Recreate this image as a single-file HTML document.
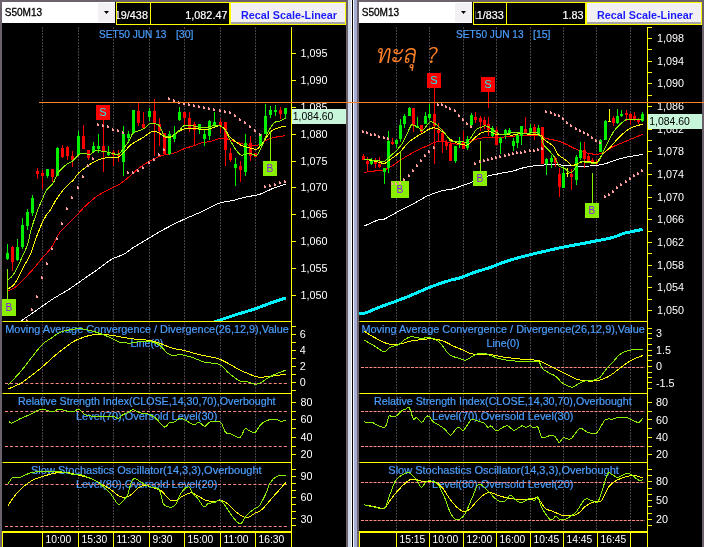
<!DOCTYPE html>
<html><head><meta charset="utf-8"><title>SET50 charts</title>
<style>html,body{margin:0;padding:0;background:#000;}body{width:704px;height:547px;overflow:hidden;position:relative;}</style>
</head><body>
<svg width="704" height="547" viewBox="0 0 704 547" style="position:absolute;left:0;top:0">
<rect x="0" y="0" width="704" height="547" fill="#000"/>
<defs>
<clipPath id="cl0"><rect x="2" y="25" width="289" height="296"/></clipPath>
<clipPath id="cl1"><rect x="359" y="25" width="288" height="296"/></clipPath>
<clipPath id="hc0"><rect x="117" y="3" width="33" height="21"/></clipPath>
<clipPath id="hc1"><rect x="475.6" y="3" width="30.4" height="21"/></clipPath>
</defs>
<line x1="42.5" y1="27" x2="42.5" y2="531" stroke="#4a404a" stroke-width="1" stroke-dasharray="2,1"/>
<line x1="78.5" y1="27" x2="78.5" y2="531" stroke="#4a404a" stroke-width="1" stroke-dasharray="2,1"/>
<line x1="113.5" y1="27" x2="113.5" y2="531" stroke="#4a404a" stroke-width="1" stroke-dasharray="2,1"/>
<line x1="149.5" y1="27" x2="149.5" y2="531" stroke="#4a404a" stroke-width="1" stroke-dasharray="2,1"/>
<line x1="184.5" y1="27" x2="184.5" y2="531" stroke="#4a404a" stroke-width="1" stroke-dasharray="2,1"/>
<line x1="220.5" y1="27" x2="220.5" y2="531" stroke="#4a404a" stroke-width="1" stroke-dasharray="2,1"/>
<line x1="255.5" y1="27" x2="255.5" y2="531" stroke="#4a404a" stroke-width="1" stroke-dasharray="2,1"/>
<line x1="396.5" y1="27" x2="396.5" y2="531" stroke="#4a404a" stroke-width="1" stroke-dasharray="2,1"/>
<line x1="429.5" y1="27" x2="429.5" y2="531" stroke="#4a404a" stroke-width="1" stroke-dasharray="2,1"/>
<line x1="463.5" y1="27" x2="463.5" y2="531" stroke="#4a404a" stroke-width="1" stroke-dasharray="2,1"/>
<line x1="496.5" y1="27" x2="496.5" y2="531" stroke="#4a404a" stroke-width="1" stroke-dasharray="2,1"/>
<line x1="530.5" y1="27" x2="530.5" y2="531" stroke="#4a404a" stroke-width="1" stroke-dasharray="2,1"/>
<line x1="563.5" y1="27" x2="563.5" y2="531" stroke="#4a404a" stroke-width="1" stroke-dasharray="2,1"/>
<line x1="596.5" y1="27" x2="596.5" y2="531" stroke="#4a404a" stroke-width="1" stroke-dasharray="2,1"/>
<line x1="630.5" y1="27" x2="630.5" y2="531" stroke="#4a404a" stroke-width="1" stroke-dasharray="2,1"/>
<text x="99" y="37.9" font-size="10.4" fill="#4a9eff" font-family="'Liberation Sans', Arial, sans-serif" textLength="67.5" lengthAdjust="spacingAndGlyphs" stroke="#4a9eff" stroke-width="0.2">SET50 JUN 13</text>
<text x="175.9" y="37.9" font-size="10.4" fill="#4a9eff" font-family="'Liberation Sans', Arial, sans-serif" textLength="17.5" lengthAdjust="spacingAndGlyphs" stroke="#4a9eff" stroke-width="0.2">[30]</text>
<text x="5.3" y="333.2" font-size="10.4" fill="#4a9eff" font-family="'Liberation Sans', Arial, sans-serif" textLength="283.5" lengthAdjust="spacingAndGlyphs" stroke="#4a9eff" stroke-width="0.2">Moving Average Convergence / Divergence(26,12,9),Value</text>
<text x="130.4" y="346.8" font-size="10.4" fill="#4a9eff" font-family="'Liberation Sans', Arial, sans-serif" textLength="33" lengthAdjust="spacingAndGlyphs" stroke="#4a9eff" stroke-width="0.2">Line(0)</text>
<text x="18" y="405" font-size="10.4" fill="#4a9eff" font-family="'Liberation Sans', Arial, sans-serif" textLength="257.6" lengthAdjust="spacingAndGlyphs" stroke="#4a9eff" stroke-width="0.2">Relative Strength Index(CLOSE,14,30,70),Overbought</text>
<text x="76" y="419.5" font-size="10.4" fill="#4a9eff" font-family="'Liberation Sans', Arial, sans-serif" textLength="141.3" lengthAdjust="spacingAndGlyphs" stroke="#4a9eff" stroke-width="0.2">Level(70),Oversold Level(30)</text>
<text x="31" y="474.3" font-size="10.4" fill="#4a9eff" font-family="'Liberation Sans', Arial, sans-serif" textLength="230.6" lengthAdjust="spacingAndGlyphs" stroke="#4a9eff" stroke-width="0.2">Slow Stochastics Oscillator(14,3,3),Overbought</text>
<text x="76" y="488" font-size="10.4" fill="#4a9eff" font-family="'Liberation Sans', Arial, sans-serif" textLength="141.3" lengthAdjust="spacingAndGlyphs" stroke="#4a9eff" stroke-width="0.2">Level(80),Oversold Level(20)</text>
<text x="456.1" y="37.9" font-size="10.4" fill="#4a9eff" font-family="'Liberation Sans', Arial, sans-serif" textLength="67.5" lengthAdjust="spacingAndGlyphs" stroke="#4a9eff" stroke-width="0.2">SET50 JUN 13</text>
<text x="533.0" y="37.9" font-size="10.4" fill="#4a9eff" font-family="'Liberation Sans', Arial, sans-serif" textLength="17.5" lengthAdjust="spacingAndGlyphs" stroke="#4a9eff" stroke-width="0.2">[15]</text>
<text x="361.40000000000003" y="333.2" font-size="10.4" fill="#4a9eff" font-family="'Liberation Sans', Arial, sans-serif" textLength="283.5" lengthAdjust="spacingAndGlyphs" stroke="#4a9eff" stroke-width="0.2">Moving Average Convergence / Divergence(26,12,9),Value</text>
<text x="486.5" y="346.8" font-size="10.4" fill="#4a9eff" font-family="'Liberation Sans', Arial, sans-serif" textLength="33" lengthAdjust="spacingAndGlyphs" stroke="#4a9eff" stroke-width="0.2">Line(0)</text>
<text x="374.1" y="405" font-size="10.4" fill="#4a9eff" font-family="'Liberation Sans', Arial, sans-serif" textLength="257.6" lengthAdjust="spacingAndGlyphs" stroke="#4a9eff" stroke-width="0.2">Relative Strength Index(CLOSE,14,30,70),Overbought</text>
<text x="432.1" y="419.5" font-size="10.4" fill="#4a9eff" font-family="'Liberation Sans', Arial, sans-serif" textLength="141.3" lengthAdjust="spacingAndGlyphs" stroke="#4a9eff" stroke-width="0.2">Level(70),Oversold Level(30)</text>
<text x="388.3" y="474.3" font-size="10.4" fill="#4a9eff" font-family="'Liberation Sans', Arial, sans-serif" textLength="230.6" lengthAdjust="spacingAndGlyphs" stroke="#4a9eff" stroke-width="0.2">Slow Stochastics Oscillator(14,3,3),Overbought</text>
<text x="432.1" y="488" font-size="10.4" fill="#4a9eff" font-family="'Liberation Sans', Arial, sans-serif" textLength="141.3" lengthAdjust="spacingAndGlyphs" stroke="#4a9eff" stroke-width="0.2">Level(80),Oversold Level(20)</text>
<line x1="5" y1="383.5" x2="289" y2="383.5" stroke="#ff8a80" stroke-width="1" stroke-dasharray="3,2.07"/>
<line x1="5" y1="411.5" x2="289" y2="411.5" stroke="#ff8a80" stroke-width="1" stroke-dasharray="3,2.07"/>
<line x1="5" y1="446.5" x2="289" y2="446.5" stroke="#ff8a80" stroke-width="1" stroke-dasharray="3,2.07"/>
<line x1="5" y1="484.5" x2="289" y2="484.5" stroke="#ff8a80" stroke-width="1" stroke-dasharray="3,2.07"/>
<line x1="5" y1="526.5" x2="289" y2="526.5" stroke="#ff8a80" stroke-width="1" stroke-dasharray="3,2.07"/>
<line x1="2.5" y1="321.5" x2="292" y2="321.5" stroke="#ffff00" stroke-width="1"/>
<line x1="2.5" y1="393.5" x2="292" y2="393.5" stroke="#ffff00" stroke-width="1"/>
<line x1="2.5" y1="462.5" x2="292" y2="462.5" stroke="#ffff00" stroke-width="1"/>
<rect x="2" y="531" width="290" height="2" fill="#ffff00"/>
<rect x="2" y="531" width="1" height="16" fill="#ffff00"/>
<rect x="42" y="531" width="1" height="16" fill="#ffff00"/>
<rect x="78" y="531" width="1" height="16" fill="#ffff00"/>
<rect x="113" y="531" width="1" height="16" fill="#ffff00"/>
<rect x="149" y="531" width="1" height="16" fill="#ffff00"/>
<rect x="184" y="531" width="1" height="16" fill="#ffff00"/>
<rect x="220" y="531" width="1" height="16" fill="#ffff00"/>
<rect x="255" y="531" width="1" height="16" fill="#ffff00"/>
<rect x="291" y="531" width="1" height="16" fill="#ffff00"/>
<text x="45.5" y="543" font-size="10.3" fill="#ffffff" font-family="'Liberation Sans', Arial, sans-serif">10:00</text>
<text x="81.5" y="543" font-size="10.3" fill="#ffffff" font-family="'Liberation Sans', Arial, sans-serif">15:30</text>
<text x="116.5" y="543" font-size="10.3" fill="#ffffff" font-family="'Liberation Sans', Arial, sans-serif">11:30</text>
<text x="152.5" y="543" font-size="10.3" fill="#ffffff" font-family="'Liberation Sans', Arial, sans-serif">9:30</text>
<text x="187.5" y="543" font-size="10.3" fill="#ffffff" font-family="'Liberation Sans', Arial, sans-serif">15:00</text>
<text x="223.5" y="543" font-size="10.3" fill="#ffffff" font-family="'Liberation Sans', Arial, sans-serif">11:00</text>
<text x="258.5" y="543" font-size="10.3" fill="#ffffff" font-family="'Liberation Sans', Arial, sans-serif">16:30</text>
<rect x="291" y="27" width="1" height="520" fill="#ffff00"/>
<line x1="361" y1="367.5" x2="645" y2="367.5" stroke="#ff8a80" stroke-width="1" stroke-dasharray="3,1.17"/>
<line x1="361" y1="411.5" x2="645" y2="411.5" stroke="#ff8a80" stroke-width="1" stroke-dasharray="3,1.17"/>
<line x1="361" y1="446.5" x2="645" y2="446.5" stroke="#ff8a80" stroke-width="1" stroke-dasharray="3,1.17"/>
<line x1="361" y1="482.5" x2="645" y2="482.5" stroke="#ff8a80" stroke-width="1" stroke-dasharray="3,1.17"/>
<line x1="361" y1="520.5" x2="645" y2="520.5" stroke="#ff8a80" stroke-width="1" stroke-dasharray="3,1.17"/>
<line x1="359.5" y1="321.5" x2="648" y2="321.5" stroke="#ffff00" stroke-width="1"/>
<line x1="359.5" y1="393.5" x2="648" y2="393.5" stroke="#ffff00" stroke-width="1"/>
<line x1="359.5" y1="462.5" x2="648" y2="462.5" stroke="#ffff00" stroke-width="1"/>
<rect x="359" y="531" width="289" height="2" fill="#ffff00"/>
<rect x="359" y="531" width="1" height="16" fill="#ffff00"/>
<rect x="396" y="531" width="1" height="16" fill="#ffff00"/>
<rect x="429" y="531" width="1" height="16" fill="#ffff00"/>
<rect x="463" y="531" width="1" height="16" fill="#ffff00"/>
<rect x="496" y="531" width="1" height="16" fill="#ffff00"/>
<rect x="530" y="531" width="1" height="16" fill="#ffff00"/>
<rect x="563" y="531" width="1" height="16" fill="#ffff00"/>
<rect x="597" y="531" width="1" height="16" fill="#ffff00"/>
<rect x="630" y="531" width="1" height="16" fill="#ffff00"/>
<rect x="647" y="531" width="1" height="16" fill="#ffff00"/>
<text x="399.5" y="543" font-size="10.3" fill="#ffffff" font-family="'Liberation Sans', Arial, sans-serif">15:15</text>
<text x="432.5" y="543" font-size="10.3" fill="#ffffff" font-family="'Liberation Sans', Arial, sans-serif">10:00</text>
<text x="466.5" y="543" font-size="10.3" fill="#ffffff" font-family="'Liberation Sans', Arial, sans-serif">12:00</text>
<text x="499.5" y="543" font-size="10.3" fill="#ffffff" font-family="'Liberation Sans', Arial, sans-serif">16:00</text>
<text x="533.5" y="543" font-size="10.3" fill="#ffffff" font-family="'Liberation Sans', Arial, sans-serif">10:45</text>
<text x="566.5" y="543" font-size="10.3" fill="#ffffff" font-family="'Liberation Sans', Arial, sans-serif">14:45</text>
<text x="600.5" y="543" font-size="10.3" fill="#ffffff" font-family="'Liberation Sans', Arial, sans-serif">16:45</text>
<rect x="647" y="27" width="1" height="520" fill="#ffff00"/>
<g clip-path="url(#cl0)">
<path d="M212.0,322.8 C215.4,321.6 225.3,318.2 232.3,315.9 C239.3,313.6 247.8,311.2 254.2,309.1 C260.6,307.0 265.4,304.9 270.6,303.0 C275.9,301.1 283.2,298.8 285.7,298.0" fill="none" stroke="#00f4ff" stroke-width="3" shape-rendering="crispEdges"/>
<path d="M20.8,321.1 C23.1,319.5 29.5,315.2 34.7,311.6 C39.9,308.0 46.3,303.2 52.1,299.4 C57.9,295.6 63.6,292.8 69.4,289.0 C75.2,285.2 82.1,280.1 86.8,276.9 C91.5,273.7 93.4,272.5 97.5,269.6 C101.6,266.7 106.8,262.2 111.2,259.6 C115.6,257.0 120.3,256.1 124.0,254.1 C127.7,252.1 128.5,250.6 133.1,247.7 C137.7,244.8 145.8,240.0 151.4,236.7 C157.0,233.4 161.2,230.8 166.5,228.0 C171.8,225.2 177.0,222.6 182.9,219.8 C188.8,217.1 196.2,214.2 202.1,211.5 C208.0,208.8 213.5,205.1 218.5,203.3 C223.5,201.5 227.7,201.7 232.3,200.6 C236.9,199.5 241.4,198.1 246.0,197.0 C250.6,195.9 255.1,195.8 259.7,194.3 C264.3,192.8 269.1,189.9 273.4,188.2 C277.7,186.5 283.6,184.8 285.7,184.1" fill="none" stroke="#ffffff" stroke-width="1" shape-rendering="crispEdges"/>
<path d="M7.8,291.1 C9.2,290.3 13.5,288.8 16.5,286.4 C19.5,284.0 23.0,280.1 26.0,276.9 C29.0,273.7 32.0,270.5 34.7,267.3 C37.5,264.1 39.6,261.3 42.5,257.8 C45.4,254.3 49.2,250.8 52.1,246.5 C55.0,242.2 56.1,237.2 60.0,232.2 C63.9,227.2 71.4,220.9 75.5,216.6 C79.6,212.3 81.2,209.9 84.7,206.6 C88.2,203.2 92.2,199.6 96.6,196.5 C101.0,193.4 107.2,190.4 111.2,188.3 C115.2,186.2 117.2,185.7 120.3,183.7 C123.3,181.7 126.4,179.0 129.5,176.4 C132.6,173.8 135.6,170.6 138.9,168.1 C142.2,165.6 145.7,163.4 149.1,161.5 C152.5,159.6 156.1,157.6 159.3,156.4 C162.5,155.2 165.5,154.8 168.1,154.2 C170.7,153.6 172.2,153.7 175.0,152.7 C177.8,151.7 181.7,149.6 185.0,148.4 C188.3,147.2 192.5,146.3 195.0,145.4 C197.5,144.5 197.5,143.8 200.0,143.2 C202.5,142.5 206.7,142.3 210.0,141.5 C213.3,140.7 217.3,139.1 220.0,138.6 C222.7,138.1 223.8,138.2 226.0,138.6 C228.2,139.0 229.8,140.0 233.0,141.0 C236.2,142.0 241.0,143.7 245.0,144.4 C249.0,145.1 252.8,146.3 257.0,145.3 C261.2,144.3 265.2,140.1 270.0,138.5 C274.8,136.9 282.9,136.1 285.5,135.6" fill="none" stroke="#ff0000" stroke-width="1" shape-rendering="crispEdges"/>
<rect x="7" y="244" width="1" height="16" fill="#00f000"/>
<rect x="6" y="253" width="3" height="6" fill="#00f000"/>
<rect x="12" y="246" width="1" height="25" fill="#ff0000"/>
<rect x="11" y="247" width="3" height="15" fill="#ff0000"/>
<rect x="17" y="239" width="1" height="22" fill="#00f000"/>
<rect x="16" y="247" width="3" height="13" fill="#00f000"/>
<rect x="22" y="218" width="1" height="31" fill="#00f000"/>
<rect x="21" y="225" width="3" height="22" fill="#00f000"/>
<rect x="27" y="209" width="1" height="21" fill="#00f000"/>
<rect x="26" y="212" width="3" height="14" fill="#00f000"/>
<rect x="32" y="195" width="1" height="21" fill="#00f000"/>
<rect x="31" y="198" width="3" height="15" fill="#00f000"/>
<rect x="37" y="168" width="1" height="11" fill="#ff0000"/>
<rect x="36" y="171" width="3" height="3" fill="#ff0000"/>
<rect x="42" y="170" width="1" height="19" fill="#ff0000"/>
<rect x="41" y="173" width="3" height="3" fill="#ff0000"/>
<rect x="47" y="169" width="1" height="9" fill="#00f000"/>
<rect x="46" y="169" width="3" height="7" fill="#00f000"/>
<rect x="52" y="169" width="1" height="13" fill="#ff0000"/>
<rect x="51" y="169" width="3" height="8" fill="#ff0000"/>
<rect x="57" y="147" width="1" height="29" fill="#00f000"/>
<rect x="56" y="148" width="3" height="28" fill="#00f000"/>
<rect x="62" y="145" width="1" height="13" fill="#ff0000"/>
<rect x="61" y="148" width="3" height="9" fill="#ff0000"/>
<rect x="67" y="146" width="1" height="14" fill="#ff0000"/>
<rect x="66" y="147" width="3" height="9" fill="#ff0000"/>
<rect x="72" y="151" width="1" height="16" fill="#ff0000"/>
<rect x="71" y="156" width="3" height="4" fill="#ff0000"/>
<rect x="78" y="131" width="1" height="25" fill="#00f000"/>
<rect x="77" y="136" width="3" height="19" fill="#00f000"/>
<rect x="83" y="125" width="1" height="24" fill="#ff0000"/>
<rect x="82" y="136" width="3" height="13" fill="#ff0000"/>
<rect x="88" y="150" width="1" height="10" fill="#ff0000"/>
<rect x="87" y="150" width="3" height="8" fill="#ff0000"/>
<rect x="93" y="142" width="1" height="11" fill="#00f000"/>
<rect x="92" y="146" width="3" height="6" fill="#00f000"/>
<rect x="98" y="134" width="1" height="19" fill="#00f000"/>
<rect x="97" y="146" width="3" height="3" fill="#00f000"/>
<rect x="103" y="121" width="1" height="51" fill="#ff0000"/>
<rect x="102" y="146" width="3" height="6" fill="#ff0000"/>
<rect x="108" y="146" width="1" height="10" fill="#00f000"/>
<rect x="107" y="152" width="3" height="3" fill="#00f000"/>
<rect x="113" y="150" width="1" height="16" fill="#ff0000"/>
<rect x="112" y="152" width="3" height="3" fill="#ff0000"/>
<rect x="118" y="150" width="1" height="12" fill="#ff0000"/>
<rect x="117" y="154" width="3" height="2" fill="#ff0000"/>
<rect x="123" y="126" width="1" height="50" fill="#00f000"/>
<rect x="122" y="134" width="3" height="28" fill="#00f000"/>
<rect x="128" y="131" width="1" height="11" fill="#00f000"/>
<rect x="127" y="134" width="3" height="4" fill="#00f000"/>
<rect x="133" y="110" width="1" height="24" fill="#00f000"/>
<rect x="132" y="110" width="3" height="23" fill="#00f000"/>
<rect x="138" y="103" width="1" height="23" fill="#ff0000"/>
<rect x="137" y="111" width="3" height="12" fill="#ff0000"/>
<rect x="143" y="112" width="1" height="16" fill="#ff0000"/>
<rect x="142" y="124" width="3" height="4" fill="#ff0000"/>
<rect x="149" y="108" width="1" height="13" fill="#00f000"/>
<rect x="148" y="111" width="3" height="6" fill="#00f000"/>
<rect x="154" y="99" width="1" height="57" fill="#ff0000"/>
<rect x="153" y="111" width="3" height="13" fill="#ff0000"/>
<rect x="159" y="118" width="1" height="28" fill="#ff0000"/>
<rect x="158" y="124" width="3" height="7" fill="#ff0000"/>
<rect x="164" y="133" width="1" height="22" fill="#ff0000"/>
<rect x="163" y="133" width="3" height="21" fill="#ff0000"/>
<rect x="169" y="131" width="1" height="24" fill="#00f000"/>
<rect x="168" y="134" width="3" height="20" fill="#00f000"/>
<rect x="174" y="126" width="1" height="16" fill="#00f000"/>
<rect x="173" y="134" width="3" height="5" fill="#00f000"/>
<rect x="179" y="107" width="1" height="14" fill="#00f000"/>
<rect x="178" y="112" width="3" height="8" fill="#00f000"/>
<rect x="184" y="112" width="1" height="13" fill="#ff0000"/>
<rect x="183" y="112" width="3" height="6" fill="#ff0000"/>
<rect x="189" y="112" width="1" height="20" fill="#ff0000"/>
<rect x="188" y="118" width="3" height="10" fill="#ff0000"/>
<rect x="194" y="122" width="1" height="24" fill="#ff0000"/>
<rect x="193" y="124" width="3" height="6" fill="#ff0000"/>
<rect x="199" y="124" width="1" height="10" fill="#00f000"/>
<rect x="198" y="124" width="3" height="6" fill="#00f000"/>
<rect x="204" y="130" width="1" height="16" fill="#00f000"/>
<rect x="203" y="134" width="3" height="5" fill="#00f000"/>
<rect x="209" y="120" width="1" height="20" fill="#00f000"/>
<rect x="208" y="121" width="3" height="15" fill="#00f000"/>
<rect x="214" y="112" width="1" height="16" fill="#00f000"/>
<rect x="213" y="122" width="3" height="4" fill="#00f000"/>
<rect x="220" y="119" width="1" height="14" fill="#ff0000"/>
<rect x="219" y="122" width="3" height="4" fill="#ff0000"/>
<rect x="225" y="122" width="1" height="44" fill="#ff0000"/>
<rect x="224" y="122" width="3" height="28" fill="#ff0000"/>
<rect x="230" y="148" width="1" height="14" fill="#ff0000"/>
<rect x="229" y="153" width="3" height="7" fill="#ff0000"/>
<rect x="235" y="158" width="1" height="28" fill="#00f000"/>
<rect x="234" y="164" width="3" height="4" fill="#00f000"/>
<rect x="240" y="161" width="1" height="21" fill="#ff0000"/>
<rect x="239" y="166" width="3" height="4" fill="#ff0000"/>
<rect x="245" y="134" width="1" height="42" fill="#00f000"/>
<rect x="244" y="143" width="3" height="29" fill="#00f000"/>
<rect x="250" y="136" width="1" height="25" fill="#ff0000"/>
<rect x="249" y="143" width="3" height="13" fill="#ff0000"/>
<rect x="255" y="153" width="1" height="4" fill="#ff0000"/>
<rect x="254" y="153" width="3" height="4" fill="#ff0000"/>
<rect x="260" y="134" width="1" height="12" fill="#00f000"/>
<rect x="259" y="134" width="3" height="12" fill="#00f000"/>
<rect x="265" y="104" width="1" height="30" fill="#00f000"/>
<rect x="264" y="116" width="3" height="18" fill="#00f000"/>
<rect x="270" y="106" width="1" height="12" fill="#00f000"/>
<rect x="269" y="110" width="3" height="5" fill="#00f000"/>
<rect x="275" y="105" width="1" height="11" fill="#00f000"/>
<rect x="274" y="110" width="3" height="2" fill="#00f000"/>
<rect x="280" y="107" width="1" height="12" fill="#ff0000"/>
<rect x="279" y="110" width="3" height="4" fill="#ff0000"/>
<rect x="285" y="108" width="1" height="10" fill="#00f000"/>
<rect x="284" y="108" width="3" height="6" fill="#00f000"/>
<path d="M7.8,289.0 C8.8,288.3 12.0,286.9 13.9,284.7 C15.8,282.5 17.4,279.2 19.1,276.0 C20.8,272.8 22.4,269.2 24.3,265.6 C26.2,262.0 28.7,258.2 30.4,254.3 C32.1,250.4 32.8,247.2 34.5,242.4 C36.2,237.7 39.0,230.3 40.9,225.8 C42.8,221.3 44.5,218.2 46.0,215.6 C47.5,213.0 48.3,213.1 50.0,210.5 C51.7,207.9 53.8,203.4 56.0,200.0 C58.2,196.6 60.9,192.7 63.1,190.0 C65.3,187.3 67.4,185.3 69.1,183.7 C70.8,182.1 71.9,181.9 73.1,180.5 C74.3,179.1 75.3,177.0 76.5,175.5 C77.7,174.0 78.5,173.0 80.4,171.4 C82.3,169.8 85.3,167.6 87.8,165.9 C90.2,164.2 92.7,162.5 95.1,161.3 C97.5,160.1 99.9,159.3 102.3,158.6 C104.7,157.9 106.9,157.3 109.6,157.1 C112.3,156.8 116.0,157.9 118.4,157.1 C120.8,156.2 122.2,153.9 124.2,152.0 C126.2,150.1 128.2,147.2 130.1,145.4 C132.0,143.7 133.7,142.8 135.9,141.5 C138.1,140.2 140.8,138.9 143.2,137.4 C145.6,135.9 148.6,133.3 150.6,132.3 C152.6,131.3 153.6,131.4 155.0,131.5 C156.4,131.6 157.7,132.1 159.3,133.0 C160.9,133.9 162.6,136.0 164.4,136.7 C166.2,137.4 167.7,138.2 170.0,137.4 C172.3,136.6 175.5,133.5 178.0,132.0 C180.5,130.5 182.2,129.2 185.0,128.6 C187.8,128.0 191.7,128.1 195.0,128.3 C198.3,128.5 201.7,130.0 205.0,129.8 C208.3,129.6 212.5,127.6 215.0,127.0 C217.5,126.4 218.3,125.6 220.0,126.0 C221.7,126.4 223.3,127.6 225.0,129.4 C226.7,131.2 227.3,134.3 230.0,137.0 C232.7,139.7 237.3,143.4 241.0,145.3 C244.7,147.2 249.3,147.8 252.0,148.4 C254.7,149.0 255.3,149.7 257.0,149.0 C258.7,148.3 259.5,147.1 262.0,144.0 C264.5,140.9 268.1,133.6 272.0,130.6 C275.9,127.6 283.2,126.8 285.5,126.0" fill="none" stroke="#ffff00" stroke-width="1" shape-rendering="crispEdges"/>
<path d="M7.8,280.3 C8.7,279.4 11.4,277.3 13.0,275.1 C14.6,272.9 15.8,270.5 17.4,267.3 C19.0,264.1 20.9,259.9 22.6,256.0 C24.3,252.1 26.4,248.4 27.8,243.9 C29.2,239.4 29.8,234.4 31.3,229.0 C32.9,223.6 35.3,216.6 37.1,211.7 C38.9,206.8 40.6,203.2 42.2,199.6 C43.8,196.0 44.9,192.7 46.7,190.0 C48.5,187.3 51.0,186.1 53.0,183.2 C55.0,180.2 56.4,175.3 58.5,172.3 C60.6,169.3 63.5,166.8 65.8,165.0 C68.1,163.2 70.1,163.0 72.2,161.3 C74.3,159.6 76.6,156.3 78.6,154.9 C80.6,153.5 82.3,153.1 84.1,153.1 C85.9,153.1 87.8,155.2 89.6,154.9 C91.4,154.6 92.7,151.6 95.1,151.0 C97.5,150.4 101.4,151.0 103.8,151.3 C106.2,151.6 107.2,152.2 109.6,152.7 C112.0,153.2 116.0,155.0 118.4,154.2 C120.8,153.3 122.4,149.9 124.2,147.6 C126.0,145.3 127.9,142.7 129.4,140.3 C130.9,137.9 131.4,134.6 133.0,133.0 C134.6,131.4 137.1,131.5 138.9,130.8 C140.7,130.1 142.2,129.8 144.0,128.6 C145.8,127.4 148.1,124.3 149.8,123.5 C151.5,122.7 152.6,123.1 154.2,123.5 C155.8,123.9 157.6,123.6 159.3,125.7 C161.0,127.8 162.6,134.1 164.4,135.9 C166.2,137.7 168.2,137.0 170.0,136.7 C171.8,136.4 173.3,135.2 175.0,134.0 C176.7,132.8 178.5,131.2 180.0,129.8 C181.5,128.4 181.7,126.3 184.0,125.7 C186.3,125.1 190.7,125.6 194.0,126.0 C197.3,126.4 200.7,128.1 204.0,128.0 C207.3,127.9 211.3,125.8 214.0,125.4 C216.7,125.0 218.2,124.9 220.0,125.7 C221.8,126.5 223.3,127.6 225.0,130.0 C226.7,132.4 228.2,136.7 230.0,140.0 C231.8,143.3 234.2,147.5 236.0,150.0 C237.8,152.5 239.3,154.3 241.0,155.0 C242.7,155.7 244.2,154.2 246.0,154.0 C247.8,153.8 250.2,153.8 252.0,154.0 C253.8,154.2 255.3,156.3 257.0,155.0 C258.7,153.7 260.3,149.5 262.0,146.0 C263.7,142.5 265.0,137.8 267.0,134.0 C269.0,130.2 271.8,125.2 274.0,123.0 C276.2,120.8 278.1,121.8 280.0,121.0 C281.9,120.2 284.6,118.5 285.5,118.0" fill="none" stroke="#88f000" stroke-width="1" shape-rendering="crispEdges"/>
</g>
<g clip-path="url(#cl1)">
<path d="M359.3,313.6 C360.4,313.5 362.4,313.9 365.7,312.9 C368.9,311.9 373.6,309.4 378.8,307.4 C384.0,305.4 390.7,303.2 396.6,301.0 C402.5,298.8 408.7,296.3 414.4,293.9 C420.1,291.5 425.1,289.1 431.0,286.8 C436.9,284.5 445.3,281.8 450.1,280.3 C454.9,278.8 455.7,279.3 459.6,278.0 C463.6,276.7 468.7,274.3 473.8,272.5 C478.9,270.7 485.3,269.1 490.5,267.3 C495.7,265.5 499.8,263.6 505.0,261.8 C510.2,260.1 516.3,258.3 521.9,256.8 C527.5,255.3 531.5,254.3 538.4,252.7 C545.3,251.1 555.8,248.7 563.1,247.2 C570.4,245.7 576.8,244.6 582.3,243.6 C587.8,242.6 591.0,241.9 596.0,240.9 C601.0,239.9 607.8,238.8 612.4,237.6 C617.0,236.4 618.4,234.9 623.4,233.5 C628.4,232.1 639.4,230.1 642.6,229.4" fill="none" stroke="#00f4ff" stroke-width="3" shape-rendering="crispEdges"/>
<path d="M364.0,226.1 C366.3,225.1 374.4,221.3 377.6,220.2 C380.9,219.1 380.3,220.8 383.5,219.5 C386.7,218.2 392.6,214.5 396.6,212.4 C400.6,210.3 404.4,208.5 407.3,207.0 C410.2,205.5 410.7,205.3 414.2,203.4 C417.7,201.5 423.7,197.6 428.4,195.5 C433.1,193.4 438.8,191.6 442.6,190.6 C446.4,189.6 447.8,190.2 451.1,189.4 C454.4,188.6 458.9,186.8 462.5,185.6 C466.1,184.4 468.1,183.6 472.4,182.0 C476.6,180.4 484.0,177.4 488.0,176.1 C492.0,174.8 493.8,174.8 496.6,174.2 C499.4,173.6 502.1,172.9 505.0,172.4 C507.9,171.9 510.9,171.6 513.8,170.9 C516.7,170.2 519.1,168.8 522.5,168.0 C525.9,167.2 530.8,166.3 534.2,165.8 C537.6,165.3 539.3,165.3 543.0,165.1 C546.7,164.8 553.4,164.3 556.2,164.3 C559.0,164.3 556.9,164.6 560.0,164.9 C563.1,165.2 570.0,165.8 575.0,166.0 C580.0,166.2 586.2,166.1 590.0,166.0 C593.8,165.9 595.5,165.6 598.0,165.2 C600.5,164.8 602.7,164.4 605.0,163.8 C607.3,163.2 609.0,162.4 611.6,161.5 C614.2,160.6 617.6,159.3 620.6,158.5 C623.6,157.7 626.7,157.1 629.5,156.6 C632.3,156.1 635.0,155.7 637.2,155.3 C639.5,154.9 642.0,154.5 643.0,154.3" fill="none" stroke="#ffffff" stroke-width="1" shape-rendering="crispEdges"/>
<path d="M363.5,173.2 C364.6,172.9 366.6,171.9 370.0,171.4 C373.4,170.9 380.1,170.9 383.8,170.0 C387.5,169.1 389.4,167.5 392.0,166.0 C394.6,164.5 395.8,163.0 399.2,160.8 C402.6,158.6 409.2,154.7 412.7,152.7 C416.2,150.7 417.4,150.2 420.0,149.0 C422.6,147.8 425.1,146.7 428.0,145.4 C430.9,144.2 434.5,142.1 437.7,141.5 C440.9,140.9 443.8,141.6 447.3,142.1 C450.8,142.6 455.0,144.5 458.8,144.3 C462.6,144.2 466.8,142.2 470.4,141.2 C474.0,140.2 476.9,138.9 480.2,138.3 C483.5,137.7 486.7,137.7 490.0,137.5 C493.3,137.3 496.7,137.5 500.0,137.3 C503.3,137.1 506.7,136.8 510.0,136.5 C513.3,136.2 514.6,135.9 519.6,135.8 C524.6,135.7 535.8,135.4 540.0,135.8 C544.2,136.2 542.8,137.5 545.0,138.2 C547.2,138.9 550.5,139.3 553.0,139.9 C555.5,140.5 557.8,140.9 560.0,141.6 C562.2,142.3 564.0,143.2 566.0,144.2 C568.0,145.1 569.7,146.2 572.0,147.3 C574.3,148.4 577.5,149.8 580.0,150.7 C582.5,151.6 584.3,152.4 587.0,153.0 C589.7,153.6 593.3,154.3 596.0,154.3 C598.7,154.3 601.1,153.7 603.0,153.0 C604.9,152.3 605.5,151.2 607.3,150.1 C609.0,149.0 610.7,147.8 613.5,146.5 C616.3,145.2 620.8,143.4 624.0,142.1 C627.2,140.8 629.4,139.8 632.6,138.5 C635.8,137.2 641.3,134.8 643.0,134.1" fill="none" stroke="#ff0000" stroke-width="1" shape-rendering="crispEdges"/>
<rect x="363" y="154" width="1" height="6" fill="#ff0000"/>
<rect x="362" y="156" width="3" height="4" fill="#ff0000"/>
<rect x="367" y="157" width="1" height="15" fill="#ff0000"/>
<rect x="366" y="161" width="3" height="3" fill="#ff0000"/>
<rect x="371" y="158" width="1" height="7" fill="#00f000"/>
<rect x="370" y="161" width="3" height="3" fill="#00f000"/>
<rect x="375" y="158" width="1" height="10" fill="#ff0000"/>
<rect x="374" y="160" width="3" height="4" fill="#ff0000"/>
<rect x="379" y="157" width="1" height="11" fill="#ff0000"/>
<rect x="378" y="164" width="3" height="3" fill="#ff0000"/>
<rect x="384" y="168" width="1" height="16" fill="#00f000"/>
<rect x="383" y="168" width="3" height="4" fill="#00f000"/>
<rect x="388" y="131" width="1" height="42" fill="#00f000"/>
<rect x="387" y="141" width="3" height="27" fill="#00f000"/>
<rect x="392" y="138" width="1" height="7" fill="#ff0000"/>
<rect x="391" y="142" width="3" height="2" fill="#ff0000"/>
<rect x="396" y="139" width="1" height="9" fill="#00f000"/>
<rect x="395" y="140" width="3" height="4" fill="#00f000"/>
<rect x="400" y="119" width="1" height="23" fill="#00f000"/>
<rect x="399" y="125" width="3" height="14" fill="#00f000"/>
<rect x="404" y="114" width="1" height="14" fill="#00f000"/>
<rect x="403" y="116" width="3" height="8" fill="#00f000"/>
<rect x="409" y="107" width="1" height="9" fill="#00f000"/>
<rect x="408" y="108" width="3" height="8" fill="#00f000"/>
<rect x="413" y="108" width="1" height="24" fill="#ff0000"/>
<rect x="412" y="108" width="3" height="18" fill="#ff0000"/>
<rect x="417" y="117" width="1" height="11" fill="#00f000"/>
<rect x="416" y="126" width="3" height="2" fill="#00f000"/>
<rect x="421" y="125" width="1" height="9" fill="#ff0000"/>
<rect x="420" y="125" width="3" height="7" fill="#ff0000"/>
<rect x="425" y="112" width="1" height="12" fill="#00f000"/>
<rect x="424" y="116" width="3" height="8" fill="#00f000"/>
<rect x="429" y="104" width="1" height="16" fill="#00f000"/>
<rect x="428" y="114" width="3" height="4" fill="#00f000"/>
<rect x="434" y="88" width="1" height="76" fill="#ff0000"/>
<rect x="433" y="114" width="3" height="12" fill="#ff0000"/>
<rect x="438" y="123" width="1" height="19" fill="#ff0000"/>
<rect x="437" y="130" width="3" height="3" fill="#ff0000"/>
<rect x="442" y="129" width="1" height="24" fill="#ff0000"/>
<rect x="441" y="133" width="3" height="9" fill="#ff0000"/>
<rect x="446" y="140" width="1" height="10" fill="#ff0000"/>
<rect x="445" y="142" width="3" height="4" fill="#ff0000"/>
<rect x="450" y="140" width="1" height="21" fill="#ff0000"/>
<rect x="449" y="144" width="3" height="17" fill="#ff0000"/>
<rect x="455" y="146" width="1" height="17" fill="#00f000"/>
<rect x="454" y="146" width="3" height="15" fill="#00f000"/>
<rect x="459" y="137" width="1" height="11" fill="#00f000"/>
<rect x="458" y="142" width="3" height="2" fill="#00f000"/>
<rect x="463" y="131" width="1" height="18" fill="#ff0000"/>
<rect x="462" y="142" width="3" height="7" fill="#ff0000"/>
<rect x="467" y="136" width="1" height="14" fill="#00f000"/>
<rect x="466" y="139" width="3" height="9" fill="#00f000"/>
<rect x="471" y="113" width="1" height="13" fill="#00f000"/>
<rect x="470" y="115" width="3" height="10" fill="#00f000"/>
<rect x="475" y="112" width="1" height="11" fill="#ff0000"/>
<rect x="474" y="117" width="3" height="3" fill="#ff0000"/>
<rect x="480" y="116" width="1" height="15" fill="#ff0000"/>
<rect x="479" y="118" width="3" height="4" fill="#ff0000"/>
<rect x="484" y="117" width="1" height="12" fill="#ff0000"/>
<rect x="483" y="120" width="3" height="5" fill="#ff0000"/>
<rect x="488" y="117" width="1" height="19" fill="#ff0000"/>
<rect x="487" y="124" width="3" height="6" fill="#ff0000"/>
<rect x="492" y="126" width="1" height="11" fill="#00f000"/>
<rect x="491" y="128" width="3" height="8" fill="#00f000"/>
<rect x="496" y="127" width="1" height="18" fill="#ff0000"/>
<rect x="495" y="130" width="3" height="15" fill="#ff0000"/>
<rect x="500" y="137" width="1" height="17" fill="#00f000"/>
<rect x="499" y="138" width="3" height="5" fill="#00f000"/>
<rect x="505" y="129" width="1" height="10" fill="#00f000"/>
<rect x="504" y="130" width="3" height="5" fill="#00f000"/>
<rect x="509" y="128" width="1" height="7" fill="#00f000"/>
<rect x="508" y="130" width="3" height="4" fill="#00f000"/>
<rect x="513" y="138" width="1" height="13" fill="#00f000"/>
<rect x="512" y="141" width="3" height="5" fill="#00f000"/>
<rect x="517" y="132" width="1" height="16" fill="#00f000"/>
<rect x="516" y="135" width="3" height="8" fill="#00f000"/>
<rect x="521" y="126" width="1" height="19" fill="#00f000"/>
<rect x="520" y="126" width="3" height="10" fill="#00f000"/>
<rect x="525" y="117" width="1" height="17" fill="#ff0000"/>
<rect x="524" y="129" width="3" height="4" fill="#ff0000"/>
<rect x="530" y="124" width="1" height="10" fill="#00f000"/>
<rect x="529" y="128" width="3" height="5" fill="#00f000"/>
<rect x="534" y="124" width="1" height="16" fill="#ff0000"/>
<rect x="533" y="127" width="3" height="7" fill="#ff0000"/>
<rect x="538" y="125" width="1" height="11" fill="#00f000"/>
<rect x="537" y="128" width="3" height="6" fill="#00f000"/>
<rect x="542" y="127" width="1" height="37" fill="#ff0000"/>
<rect x="541" y="127" width="3" height="37" fill="#ff0000"/>
<rect x="546" y="158" width="1" height="17" fill="#00f000"/>
<rect x="545" y="159" width="3" height="5" fill="#00f000"/>
<rect x="551" y="155" width="1" height="13" fill="#00f000"/>
<rect x="550" y="158" width="3" height="4" fill="#00f000"/>
<rect x="555" y="157" width="1" height="10" fill="#ff0000"/>
<rect x="554" y="158" width="3" height="5" fill="#ff0000"/>
<rect x="559" y="168" width="1" height="29" fill="#ff0000"/>
<rect x="558" y="174" width="3" height="13" fill="#ff0000"/>
<rect x="563" y="166" width="1" height="22" fill="#00f000"/>
<rect x="562" y="173" width="3" height="15" fill="#00f000"/>
<rect x="567" y="168" width="1" height="9" fill="#ffff00"/>
<rect x="566" y="173" width="3" height="1" fill="#ffff00"/>
<rect x="571" y="169" width="1" height="21" fill="#ff0000"/>
<rect x="570" y="174" width="3" height="3" fill="#ff0000"/>
<rect x="576" y="155" width="1" height="30" fill="#00f000"/>
<rect x="575" y="157" width="3" height="23" fill="#00f000"/>
<rect x="580" y="142" width="1" height="18" fill="#00f000"/>
<rect x="579" y="150" width="3" height="8" fill="#00f000"/>
<rect x="584" y="142" width="1" height="26" fill="#ff0000"/>
<rect x="583" y="150" width="3" height="9" fill="#ff0000"/>
<rect x="588" y="153" width="1" height="10" fill="#ff0000"/>
<rect x="587" y="156" width="3" height="7" fill="#ff0000"/>
<rect x="592" y="158" width="1" height="6" fill="#ff0000"/>
<rect x="591" y="160" width="3" height="3" fill="#ff0000"/>
<rect x="596" y="160" width="1" height="5" fill="#ff0000"/>
<rect x="595" y="162" width="3" height="2" fill="#ff0000"/>
<rect x="600" y="139" width="1" height="13" fill="#00f000"/>
<rect x="599" y="140" width="3" height="12" fill="#00f000"/>
<rect x="605" y="120" width="1" height="20" fill="#00f000"/>
<rect x="604" y="121" width="3" height="19" fill="#00f000"/>
<rect x="609" y="109" width="1" height="13" fill="#ffff00"/>
<rect x="608" y="121" width="3" height="1" fill="#ffff00"/>
<rect x="613" y="116" width="1" height="10" fill="#ff0000"/>
<rect x="612" y="118" width="3" height="5" fill="#ff0000"/>
<rect x="617" y="109" width="1" height="15" fill="#00f000"/>
<rect x="616" y="116" width="3" height="7" fill="#00f000"/>
<rect x="621" y="110" width="1" height="7" fill="#00f000"/>
<rect x="620" y="114" width="3" height="2" fill="#00f000"/>
<rect x="626" y="110" width="1" height="11" fill="#ff0000"/>
<rect x="625" y="113" width="3" height="2" fill="#ff0000"/>
<rect x="630" y="113" width="1" height="12" fill="#ff0000"/>
<rect x="629" y="114" width="3" height="5" fill="#ff0000"/>
<rect x="634" y="112" width="1" height="9" fill="#ff0000"/>
<rect x="633" y="116" width="3" height="4" fill="#ff0000"/>
<rect x="638" y="118" width="1" height="6" fill="#ff0000"/>
<rect x="637" y="119" width="3" height="3" fill="#ff0000"/>
<rect x="642" y="112" width="1" height="10" fill="#00f000"/>
<rect x="641" y="114" width="3" height="7" fill="#00f000"/>
<path d="M364.0,159.3 C365.3,159.5 369.3,160.0 372.0,160.5 C374.7,161.0 378.0,162.0 380.0,162.5 C382.0,163.0 382.7,163.9 384.0,163.7 C385.3,163.5 385.2,163.1 387.7,161.3 C390.2,159.5 395.7,155.9 399.2,152.7 C402.7,149.5 405.6,145.0 408.8,142.1 C412.0,139.2 416.2,136.8 418.5,135.4 C420.8,134.0 420.4,134.6 422.3,133.5 C424.2,132.4 427.8,129.6 430.0,128.7 C432.2,127.8 433.6,127.5 435.8,128.1 C438.1,128.7 441.3,130.8 443.5,132.5 C445.7,134.2 447.3,136.7 449.2,138.3 C451.1,139.9 452.8,141.1 455.0,142.1 C457.2,143.1 460.4,144.2 462.7,144.6 C464.9,145.0 466.6,145.6 468.5,144.6 C470.4,143.6 472.2,140.2 474.2,138.3 C476.1,136.5 477.8,134.7 480.2,133.5 C482.6,132.3 485.8,130.8 488.5,131.0 C491.2,131.2 493.8,133.8 496.5,134.4 C499.2,135.0 502.4,134.3 505.0,134.4 C507.6,134.5 509.6,135.2 512.0,135.1 C514.4,135.0 514.9,133.9 519.6,133.9 C524.3,133.9 536.1,134.3 540.0,135.1 C543.9,135.9 541.5,137.4 543.0,138.7 C544.5,140.0 547.2,141.8 549.0,143.1 C550.8,144.4 552.6,145.0 554.0,146.8 C555.4,148.6 556.0,152.2 557.6,154.1 C559.2,156.0 561.8,157.2 563.5,158.5 C565.2,159.8 566.5,160.8 568.0,162.0 C569.5,163.2 570.5,165.4 572.2,165.6 C573.9,165.8 576.0,164.1 578.0,163.4 C580.0,162.7 582.0,161.8 584.0,161.6 C586.0,161.3 587.8,161.8 590.0,161.9 C592.2,162.0 595.2,162.9 597.0,161.9 C598.8,160.9 599.7,157.7 601.0,156.0 C602.3,154.3 603.5,153.4 605.0,152.0 C606.5,150.6 607.8,149.8 610.0,147.5 C612.2,145.2 615.2,141.3 618.0,138.5 C620.8,135.7 624.1,132.4 626.8,130.4 C629.5,128.4 631.3,127.5 634.0,126.5 C636.7,125.5 641.5,124.6 643.0,124.2" fill="none" stroke="#ffff00" stroke-width="1" shape-rendering="crispEdges"/>
<path d="M364.0,159.5 C365.3,159.6 369.3,159.8 372.0,160.0 C374.7,160.2 378.0,160.8 380.0,161.0 C382.0,161.2 382.7,161.9 384.0,161.5 C385.3,161.1 384.8,161.2 387.7,158.5 C390.6,155.8 397.3,150.4 401.2,145.0 C405.1,139.6 408.9,129.2 410.8,125.8 C412.7,122.4 411.4,124.5 412.7,124.8 C414.0,125.1 416.9,126.7 418.5,127.7 C420.1,128.7 420.6,131.4 422.3,130.6 C424.1,129.8 427.4,124.4 429.0,122.9 C430.6,121.5 430.4,121.4 431.9,121.9 C433.3,122.4 435.8,124.2 437.7,125.8 C439.6,127.4 441.6,129.3 443.5,131.5 C445.4,133.7 447.9,137.6 449.2,139.2 C450.5,140.8 449.6,140.9 451.2,141.2 C452.8,141.5 456.2,141.0 458.8,141.2 C461.4,141.3 464.6,142.6 466.5,142.1 C468.4,141.6 468.8,140.4 470.4,138.3 C472.0,136.2 474.6,131.4 476.2,129.6 C477.8,127.8 479.2,128.1 480.2,127.7 C481.2,127.3 481.2,127.3 482.0,127.0 C482.8,126.7 483.7,125.5 485.0,125.6 C486.3,125.7 488.3,126.8 490.0,127.8 C491.7,128.8 493.3,130.3 495.0,131.4 C496.7,132.5 498.3,133.8 500.0,134.4 C501.7,135.0 503.3,135.0 505.0,134.8 C506.7,134.6 507.5,133.3 510.0,133.0 C512.5,132.7 516.7,133.0 520.0,133.0 C523.3,133.0 527.0,133.0 530.0,133.0 C533.0,133.0 536.2,132.3 538.0,133.0 C539.8,133.7 540.0,135.2 541.0,137.3 C542.0,139.4 542.7,143.1 544.0,145.3 C545.3,147.5 547.2,148.3 549.0,150.4 C550.8,152.5 553.3,155.1 555.0,157.7 C556.7,160.3 557.3,164.0 559.0,165.8 C560.7,167.6 563.0,167.5 565.0,168.7 C567.0,169.9 569.1,173.4 571.0,173.0 C572.9,172.6 575.0,167.8 576.5,166.0 C578.0,164.2 578.8,162.7 580.0,162.0 C581.2,161.3 581.3,161.8 584.0,162.0 C586.7,162.2 593.3,163.9 596.0,163.4 C598.7,162.9 598.7,161.2 600.0,159.0 C601.3,156.8 602.5,153.2 604.0,150.0 C605.5,146.8 607.2,143.4 609.0,140.0 C610.8,136.6 612.5,132.9 615.0,129.7 C617.5,126.5 621.8,122.8 624.0,121.0 C626.2,119.2 626.0,119.5 628.0,119.2 C630.0,119.0 633.5,119.5 636.0,119.5 C638.5,119.5 641.8,119.2 643.0,119.2" fill="none" stroke="#88f000" stroke-width="1" shape-rendering="crispEdges"/>
</g>
<path d="M8.5,388.9 C10.6,387.9 17.4,385.3 21.3,383.0 C25.2,380.7 28.4,377.8 32.0,375.1 C35.5,372.4 39.1,369.6 42.6,366.6 C46.1,363.6 49.8,360.0 53.3,357.0 C56.8,354.0 60.4,351.1 63.9,348.4 C67.5,345.7 71.0,342.9 74.6,341.0 C78.1,339.1 82.0,337.8 85.2,336.7 C88.4,335.6 91.0,335.0 93.8,334.6 C96.6,334.2 99.5,334.5 102.3,334.6 C105.1,334.7 108.0,334.9 110.8,335.2 C113.6,335.5 116.4,336.2 119.3,336.7 C122.2,337.2 124.7,337.7 127.9,338.2 C131.1,338.7 134.8,339.1 138.5,339.5 C142.2,339.9 146.2,339.8 150.0,340.5 C153.8,341.2 157.6,342.6 161.3,343.9 C165.0,345.2 168.4,347.1 172.0,348.1 C175.6,349.2 179.0,349.4 182.6,350.2 C186.2,351.0 189.8,352.1 193.3,353.0 C196.9,353.9 200.4,354.8 203.9,355.6 C207.4,356.4 211.8,357.0 214.6,357.7 C217.4,358.4 218.5,358.7 221.0,359.8 C223.5,360.9 226.3,362.4 229.5,364.1 C232.7,365.8 236.5,368.3 240.1,370.1 C243.7,371.9 248.0,373.6 250.8,374.7 C253.7,375.8 254.7,376.5 257.2,376.9 C259.7,377.3 262.9,377.1 265.7,376.9 C268.5,376.7 270.8,376.3 274.2,375.8 C277.6,375.3 284.0,374.4 286.0,374.1" fill="none" stroke="#ffff00" stroke-width="1" shape-rendering="crispEdges"/>
<path d="M8.5,384.7 C10.6,382.4 17.4,375.4 21.3,370.8 C25.2,366.2 28.4,361.4 32.0,357.0 C35.5,352.6 39.4,347.3 42.6,344.2 C45.8,341.1 48.2,340.1 51.1,338.2 C54.0,336.2 56.5,333.9 59.7,332.5 C62.9,331.1 66.8,330.3 70.3,329.7 C73.8,329.1 77.8,328.7 81.0,328.8 C84.2,328.9 86.3,329.5 89.5,330.3 C92.7,331.1 96.5,332.2 100.1,333.5 C103.6,334.8 107.6,336.4 110.8,337.8 C114.0,339.2 116.1,341.1 119.3,342.0 C122.5,342.9 126.5,343.2 130.0,343.1 C133.4,343.0 136.7,341.8 140.0,341.5 C143.3,341.2 146.8,340.9 150.0,341.5 C153.2,342.1 156.2,342.9 159.2,344.9 C162.1,346.9 165.4,351.6 167.7,353.4 C170.0,355.2 171.1,355.4 173.0,355.6 C174.9,355.8 177.3,354.5 179.4,354.5 C181.5,354.5 183.5,355.1 185.8,355.6 C188.1,356.1 190.3,356.6 193.3,357.7 C196.3,358.8 200.0,361.0 203.9,362.0 C207.8,363.0 213.7,363.0 216.7,363.7 C219.7,364.4 219.9,364.5 222.0,366.2 C224.1,367.9 226.5,371.2 229.5,373.7 C232.5,376.2 237.3,379.8 240.1,381.1 C242.9,382.4 244.0,381.1 246.5,381.6 C249.0,382.1 252.6,384.2 255.1,384.3 C257.6,384.4 259.4,383.3 261.5,382.2 C263.6,381.1 265.4,379.3 267.9,377.9 C270.4,376.5 273.4,375.0 276.4,373.7 C279.4,372.4 284.4,370.7 286.0,370.1" fill="none" stroke="#88f000" stroke-width="1" shape-rendering="crispEdges"/>
<path d="M8.8,421.2 C9.3,421.5 10.1,423.4 12.0,423.0 C13.9,422.6 17.0,420.2 20.0,418.8 C23.0,417.3 26.9,416.0 30.0,414.5 C33.1,413.0 36.0,410.8 38.8,410.0 C41.5,409.2 44.0,409.7 46.2,410.0 C48.5,410.3 50.4,412.2 52.5,412.0 C54.6,411.8 56.7,409.2 58.8,409.0 C60.8,408.8 62.7,410.0 65.0,410.5 C67.3,411.0 70.2,412.2 72.5,412.0 C74.8,411.8 76.5,409.0 78.8,409.5 C81.0,410.0 83.1,413.8 85.7,414.9 C88.3,416.0 91.1,416.0 94.2,416.3 C97.3,416.6 100.8,416.7 104.1,416.8 C107.4,416.9 111.7,416.5 114.1,416.8 C116.5,417.1 117.0,418.8 118.4,418.5 C119.8,418.2 120.9,415.9 122.6,414.9 C124.2,413.9 126.5,413.4 128.3,412.5 C130.1,411.6 131.4,409.6 133.3,409.7 C135.2,409.8 137.4,412.2 139.7,412.8 C141.9,413.4 144.2,412.7 146.8,413.5 C149.4,414.3 152.4,415.6 155.3,417.8 C158.2,420.1 162.1,426.2 164.5,427.0 C166.9,427.8 167.9,423.2 169.5,422.4 C171.1,421.6 172.5,422.7 174.3,422.0 C176.1,421.3 178.2,418.5 180.2,418.3 C182.2,418.1 183.9,419.6 186.2,420.7 C188.5,421.8 191.8,424.3 193.9,424.6 C196.0,424.9 197.2,422.1 199.0,422.4 C200.8,422.7 203.1,426.4 204.9,426.3 C206.8,426.2 207.5,422.7 210.1,422.0 C212.7,421.3 217.8,420.3 220.3,422.0 C222.9,423.7 223.6,430.3 225.4,432.3 C227.2,434.3 229.0,433.1 231.4,434.0 C233.8,434.9 237.6,438.2 239.9,437.4 C242.2,436.5 243.4,430.0 245.0,428.9 C246.6,427.8 247.6,430.0 249.3,430.6 C251.0,431.2 253.4,433.2 255.2,432.3 C257.0,431.4 258.6,427.0 260.3,425.1 C262.0,423.2 263.7,422.1 265.4,421.2 C267.1,420.3 268.8,419.8 270.6,419.5 C272.5,419.2 274.8,419.2 276.5,419.5 C278.2,419.8 279.2,421.1 280.8,421.2 C282.4,421.3 285.0,420.4 285.9,420.3" fill="none" stroke="#88f000" stroke-width="1" shape-rendering="crispEdges"/>
<path d="M8.1,505.7 C8.9,504.4 11.0,500.7 12.8,498.2 C14.7,495.7 16.7,493.3 19.2,490.8 C21.7,488.3 24.9,485.3 27.7,483.3 C30.5,481.3 33.0,480.0 36.2,478.6 C39.4,477.2 43.4,476.2 46.9,475.2 C50.4,474.2 54.0,473.1 57.5,472.7 C61.0,472.3 64.7,472.3 68.2,472.7 C71.8,473.1 75.2,474.3 78.8,475.2 C82.3,476.1 86.0,476.6 89.5,478.0 C93.0,479.4 96.5,481.4 100.1,483.3 C103.6,485.2 107.6,487.6 110.8,489.7 C114.0,491.8 116.8,494.9 119.3,496.1 C121.8,497.4 123.6,497.6 125.7,497.2 C127.8,496.8 130.0,495.6 132.1,494.0 C134.2,492.4 136.4,489.0 138.5,487.6 C140.6,486.2 142.5,485.4 144.9,485.4 C147.3,485.4 150.1,486.7 152.8,487.6 C155.5,488.5 158.5,488.8 161.3,490.8 C164.1,492.9 167.3,498.3 169.8,499.9 C172.3,501.5 174.1,501.0 176.2,500.4 C178.3,499.8 180.1,497.4 182.6,496.1 C185.1,494.9 188.6,493.0 191.1,492.9 C193.6,492.8 195.0,494.4 197.5,495.7 C200.0,496.9 203.2,499.4 206.1,500.4 C208.9,501.3 212.1,501.4 214.6,501.4 C217.1,501.4 218.9,500.0 221.0,500.4 C223.1,500.8 225.3,502.0 227.4,503.6 C229.5,505.2 231.3,507.9 233.8,510.0 C236.3,512.1 239.8,515.1 242.3,516.3 C244.8,517.5 246.6,517.5 248.7,517.0 C250.8,516.5 253.0,514.3 255.1,513.1 C257.2,511.9 259.0,512.0 261.5,509.9 C264.0,507.8 267.2,503.6 270.0,500.4 C272.8,497.2 275.8,493.8 278.5,490.8 C281.2,487.8 284.8,483.6 286.0,482.2" fill="none" stroke="#ffff00" stroke-width="1" shape-rendering="crispEdges"/>
<path d="M8.1,483.7 C8.9,482.6 11.3,478.2 12.8,477.3 C14.3,476.4 15.6,478.1 17.0,478.0 C18.4,477.9 19.2,477.7 21.3,476.9 C23.4,476.1 27.0,474.0 29.8,473.1 C32.6,472.2 35.2,472.0 38.4,471.6 C41.6,471.2 45.5,471.0 49.0,471.0 C52.5,471.0 56.5,471.2 59.7,471.6 C62.9,472.0 65.7,472.6 68.2,473.1 C70.7,473.6 72.5,474.5 74.6,474.8 C76.7,475.1 78.5,474.3 81.0,474.8 C83.5,475.3 86.7,476.8 89.5,478.0 C92.3,479.2 95.5,480.6 98.0,482.2 C100.5,483.8 102.3,485.6 104.4,487.6 C106.5,489.6 108.5,491.2 110.8,494.0 C113.1,496.8 116.2,503.1 118.3,504.2 C120.4,505.3 122.0,502.1 123.6,500.4 C125.2,498.7 126.7,496.9 127.9,494.0 C129.1,491.1 129.9,485.9 131.0,483.3 C132.1,480.7 132.8,479.0 134.2,478.6 C135.6,478.2 137.8,480.2 139.6,481.2 C141.4,482.2 142.7,483.3 144.9,484.4 C147.1,485.5 150.4,486.7 152.8,487.6 C155.2,488.5 157.4,487.0 159.2,489.7 C161.0,492.4 162.0,500.8 163.4,503.6 C164.8,506.4 166.3,506.1 167.7,506.7 C169.1,507.3 170.6,507.7 172.0,507.2 C173.4,506.7 174.8,505.8 176.2,503.6 C177.6,501.4 179.1,496.5 180.5,494.0 C181.9,491.5 183.3,489.8 184.7,488.6 C186.1,487.5 187.6,486.2 189.0,487.1 C190.4,488.0 191.9,492.1 193.3,494.0 C194.7,495.9 195.7,496.1 197.5,498.2 C199.3,500.3 202.1,505.8 203.9,506.7 C205.7,507.6 206.4,504.3 208.2,503.6 C210.0,502.9 212.6,503.1 214.6,502.5 C216.6,501.9 218.1,499.4 219.9,499.9 C221.7,500.4 223.2,503.1 225.2,505.7 C227.1,508.3 229.5,512.5 231.6,515.3 C233.7,518.1 236.4,521.4 238.0,522.7 C239.6,524.1 239.8,524.6 241.2,523.4 C242.6,522.2 244.6,517.5 246.5,515.3 C248.4,513.0 250.8,511.5 252.9,509.9 C255.0,508.3 257.2,508.3 259.3,505.7 C261.4,503.1 263.9,497.7 265.7,494.0 C267.5,490.3 268.2,486.2 270.0,483.3 C271.8,480.4 273.8,477.9 276.4,476.5 C279.0,475.1 284.0,475.4 285.5,475.2" fill="none" stroke="#88f000" stroke-width="1" shape-rendering="crispEdges"/>
<path d="M364.4,331.4 C366.2,332.5 371.4,335.9 375.0,337.8 C378.6,339.8 382.8,342.0 385.7,343.1 C388.6,344.2 389.6,344.5 392.1,344.6 C394.6,344.7 397.4,344.4 400.6,343.8 C403.8,343.2 407.8,341.7 411.3,341.0 C414.9,340.3 418.3,339.9 421.9,339.5 C425.4,339.1 429.1,338.6 432.6,338.9 C436.2,339.1 439.6,339.8 443.2,341.0 C446.8,342.2 450.3,344.7 453.9,346.3 C457.4,347.9 461.7,349.4 464.5,350.6 C467.3,351.9 468.0,353.2 470.9,353.8 C473.8,354.4 478.1,354.2 481.6,354.4 C485.2,354.6 489.0,354.4 492.2,354.8 C495.4,355.2 497.7,356.2 500.8,356.7 C503.9,357.2 507.3,357.6 510.7,358.0 C514.1,358.4 517.0,358.7 521.3,359.1 C525.5,359.5 532.7,359.7 536.2,360.2 C539.8,360.7 540.1,361.2 542.6,362.3 C545.1,363.4 548.2,365.2 551.1,366.6 C554.0,368.0 556.9,369.4 559.7,370.8 C562.6,372.2 565.4,373.7 568.2,375.1 C571.0,376.5 573.9,378.4 576.7,379.3 C579.5,380.2 582.0,380.6 585.2,380.8 C588.4,381.1 593.0,381.1 595.9,380.8 C598.8,380.6 599.8,380.2 602.3,379.3 C604.8,378.4 608.0,376.9 610.8,375.1 C613.6,373.3 616.4,370.8 619.3,368.7 C622.1,366.6 625.0,364.1 627.9,362.3 C630.8,360.5 633.9,359.1 636.4,358.0 C638.9,356.9 641.7,355.9 642.8,355.5" fill="none" stroke="#ffff00" stroke-width="1" shape-rendering="crispEdges"/>
<path d="M364.4,340.3 C366.2,341.3 371.7,344.4 375.0,346.3 C378.3,348.2 381.5,351.4 384.0,351.6 C386.5,351.8 387.6,348.6 390.0,347.4 C392.4,346.2 396.0,345.9 398.5,344.6 C401.0,343.3 402.8,340.8 404.9,339.5 C407.0,338.2 408.8,336.9 411.3,336.7 C413.8,336.5 417.0,338.0 419.8,338.2 C422.6,338.4 425.8,337.7 428.3,337.8 C430.8,337.9 432.6,337.8 434.7,338.9 C436.8,340.0 438.6,341.5 441.1,344.2 C443.6,346.9 446.8,352.5 449.6,354.8 C452.4,357.1 455.4,357.1 458.1,358.0 C460.8,358.9 463.1,360.6 465.6,360.2 C468.1,359.8 470.8,357.0 473.1,355.9 C475.4,354.8 477.4,353.6 479.5,353.3 C481.6,353.0 483.3,353.2 485.8,353.8 C488.3,354.4 491.5,356.0 494.4,357.0 C497.2,358.0 500.5,359.1 502.9,359.6 C505.2,360.1 506.1,359.9 508.5,360.2 C510.9,360.5 513.8,361.0 517.0,361.2 C520.2,361.4 524.1,361.1 527.7,361.2 C531.3,361.3 535.9,360.4 538.4,361.7 C540.9,362.9 540.8,366.8 542.6,368.7 C544.4,370.6 546.9,371.7 549.0,372.9 C551.1,374.1 553.3,374.5 555.4,376.1 C557.5,377.7 560.0,381.0 561.8,382.5 C563.6,384.0 564.3,384.3 566.1,385.1 C567.9,385.9 570.3,387.4 572.4,387.2 C574.5,386.9 576.7,384.7 578.8,383.6 C580.9,382.5 582.7,381.4 585.2,380.8 C587.7,380.2 591.3,380.6 593.8,380.0 C596.3,379.4 598.1,379.1 600.2,377.2 C602.3,375.3 604.4,371.2 606.5,368.7 C608.6,366.2 610.8,364.6 612.9,362.3 C615.0,360.0 616.8,356.8 619.3,354.8 C621.8,352.9 625.0,351.5 627.9,350.6 C630.8,349.7 633.9,349.7 636.4,349.5 C638.9,349.3 641.7,349.5 642.8,349.5" fill="none" stroke="#88f000" stroke-width="1" shape-rendering="crispEdges"/>
<path d="M364.4,421.7 C364.9,421.9 366.4,422.9 367.6,423.0 C368.9,423.1 369.1,421.7 371.9,422.4 C374.7,423.1 381.8,428.4 384.6,427.3 C387.4,426.2 387.6,417.7 388.9,416.0 C390.1,414.3 390.9,417.0 392.1,417.0 C393.4,417.0 394.8,417.1 396.4,416.0 C398.0,414.9 400.1,411.9 401.7,410.7 C403.3,409.5 404.7,409.4 405.9,408.9 C407.1,408.4 407.9,405.9 409.1,407.5 C410.4,409.1 412.1,417.1 413.4,418.8 C414.6,420.5 415.2,416.9 416.6,417.5 C418.0,418.1 420.3,422.5 421.9,422.4 C423.5,422.2 424.9,417.6 426.2,416.6 C427.4,415.6 428.3,415.8 429.4,416.6 C430.5,417.4 431.0,419.9 432.6,421.3 C434.2,422.7 436.9,423.7 439.0,425.1 C441.1,426.5 443.4,428.1 445.4,429.8 C447.3,431.5 448.9,435.4 450.7,435.2 C452.5,435.0 454.6,430.1 456.0,428.8 C457.4,427.5 457.9,427.1 459.2,427.3 C460.4,427.6 461.6,431.5 463.5,430.3 C465.4,429.1 468.6,421.8 470.9,420.2 C473.2,418.6 475.2,420.4 477.3,420.9 C479.4,421.4 481.9,421.9 483.7,423.0 C485.5,424.1 486.8,426.8 488.0,427.3 C489.2,427.8 489.8,425.4 491.2,426.0 C492.6,426.6 494.6,430.7 496.5,430.9 C498.4,431.1 501.0,428.1 502.9,427.3 C504.8,426.5 506.1,425.5 508.0,426.0 C509.9,426.5 511.9,430.3 514.1,430.3 C516.4,430.3 519.4,426.5 521.5,426.0 C523.6,425.5 525.1,427.4 526.5,427.3 C527.9,427.2 528.9,425.5 530.1,425.6 C531.3,425.7 532.6,427.9 533.9,428.1 C535.2,428.3 536.3,425.3 537.7,426.9 C539.1,428.5 540.2,436.4 542.3,437.8 C544.4,439.2 548.2,435.4 550.4,435.3 C552.6,435.2 554.0,435.7 555.5,437.0 C557.0,438.3 558.0,442.8 559.3,442.9 C560.6,443.0 561.2,438.5 563.1,437.8 C565.0,437.1 568.0,440.3 570.8,438.8 C573.6,437.3 577.0,429.7 579.7,428.6 C582.5,427.5 584.5,431.2 587.3,432.0 C590.0,432.8 593.2,435.2 596.2,433.2 C599.2,431.2 602.4,422.3 605.1,420.0 C607.9,417.7 610.6,419.6 612.7,419.2 C614.8,418.8 615.5,417.8 617.8,417.5 C620.1,417.2 623.3,416.7 626.7,417.5 C630.1,418.3 635.5,422.3 638.1,422.5 C640.7,422.7 641.8,419.2 642.5,418.5" fill="none" stroke="#88f000" stroke-width="1" shape-rendering="crispEdges"/>
<path d="M363.7,504.7 C365.6,505.0 371.5,506.2 374.9,506.7 C378.3,507.2 381.4,509.5 384.3,507.9 C387.2,506.3 389.5,500.7 392.3,497.3 C395.1,493.9 398.1,490.2 401.0,487.3 C403.9,484.4 407.0,481.1 409.7,479.9 C412.4,478.7 414.6,479.6 417.1,479.9 C419.6,480.2 421.7,481.5 424.6,481.8 C427.5,482.1 431.6,480.9 434.5,481.8 C437.4,482.7 439.5,484.5 442.0,487.3 C444.5,490.1 447.0,495.2 449.5,498.5 C452.0,501.8 454.4,505.0 456.9,507.2 C459.4,509.4 462.1,511.5 464.4,511.7 C466.7,511.9 468.5,510.2 470.6,508.4 C472.7,506.6 474.7,503.2 476.8,501.0 C478.9,498.8 480.9,496.8 483.0,495.3 C485.1,493.9 486.9,492.4 489.2,492.3 C491.5,492.2 493.8,493.9 496.7,494.8 C499.6,495.7 503.3,497.1 506.6,497.8 C509.9,498.5 512.7,498.9 516.6,499.2 C520.5,499.5 526.5,499.7 530.0,499.5 C533.5,499.3 535.2,496.7 537.7,498.2 C540.2,499.7 542.8,506.2 545.3,508.4 C547.8,510.6 550.0,510.2 553.0,511.4 C556.0,512.6 559.3,514.9 563.1,515.5 C566.9,516.1 572.1,516.4 575.9,514.8 C579.7,513.2 583.0,508.0 586.0,505.9 C589.0,503.8 591.1,502.9 593.6,502.0 C596.1,501.1 598.8,503.3 601.3,500.8 C603.8,498.3 606.4,490.2 608.9,486.8 C611.4,483.4 613.5,482.1 616.5,480.4 C619.5,478.7 623.7,477.5 626.7,476.6 C629.7,475.8 631.7,475.1 634.3,475.3 C636.9,475.5 641.1,477.5 642.5,477.9" fill="none" stroke="#ffff00" stroke-width="1" shape-rendering="crispEdges"/>
<path d="M363.7,504.7 C365.6,505.1 371.5,506.6 374.9,507.2 C378.3,507.8 381.8,510.5 384.3,508.4 C386.8,506.3 387.9,499.6 389.8,494.8 C391.8,490.1 393.5,483.4 396.0,479.9 C398.5,476.4 402.4,474.8 404.7,473.6 C407.0,472.4 407.7,471.8 409.7,472.9 C411.7,473.9 414.6,477.5 416.6,479.9 C418.6,482.3 419.9,487.1 421.6,487.3 C423.4,487.5 424.5,481.7 427.1,481.1 C429.7,480.5 434.1,480.9 437.0,483.6 C439.9,486.3 442.2,492.3 444.5,497.3 C446.8,502.3 448.6,509.7 450.7,513.4 C452.8,517.1 454.6,519.4 456.9,519.6 C459.2,519.8 461.9,518.2 464.4,514.7 C466.9,511.2 469.5,503.5 471.8,498.5 C474.1,493.5 476.1,486.9 478.0,484.8 C479.9,482.7 481.1,484.9 483.0,486.1 C484.9,487.4 486.9,490.0 489.2,492.3 C491.5,494.6 494.2,498.1 496.7,499.7 C499.2,501.3 501.8,502.4 504.1,501.7 C506.4,501.0 508.5,495.6 510.4,495.3 C512.3,495.0 513.4,498.5 515.3,499.7 C517.1,500.9 519.0,502.9 521.5,502.7 C524.0,502.4 528.0,498.5 530.1,498.2 C532.2,497.9 532.6,501.0 533.9,500.8 C535.2,500.6 536.4,495.9 537.7,497.0 C539.0,498.1 539.4,503.3 541.5,507.1 C543.6,510.9 548.1,518.2 550.4,519.8 C552.7,521.4 553.8,516.5 555.5,516.5 C557.2,516.5 558.7,519.4 560.6,519.8 C562.5,520.1 564.5,519.9 567.0,518.6 C569.5,517.3 572.9,515.4 575.9,512.2 C578.9,509.0 582.3,501.5 584.8,499.5 C587.3,497.5 589.0,499.9 591.1,500.3 C593.2,500.7 595.8,503.2 597.5,502.0 C599.2,500.8 599.6,497.8 601.3,493.1 C603.0,488.5 605.9,477.3 607.6,474.1 C609.3,470.9 609.7,473.6 611.4,474.1 C613.1,474.7 615.2,477.5 617.8,477.4 C620.3,477.3 624.4,473.7 626.7,473.3 C629.0,472.9 629.9,473.7 631.8,474.8 C633.7,475.9 636.3,479.0 638.1,479.9 C639.9,480.8 641.8,479.9 642.5,479.9" fill="none" stroke="#88f000" stroke-width="1" shape-rendering="crispEdges"/>
<rect x="292" y="53" width="4" height="1" fill="#ffff00"/>
<rect x="292" y="80" width="4" height="1" fill="#ffff00"/>
<rect x="292" y="107" width="4" height="1" fill="#ffff00"/>
<rect x="292" y="134" width="4" height="1" fill="#ffff00"/>
<rect x="292" y="161" width="4" height="1" fill="#ffff00"/>
<rect x="292" y="187" width="4" height="1" fill="#ffff00"/>
<rect x="292" y="214" width="4" height="1" fill="#ffff00"/>
<rect x="292" y="241" width="4" height="1" fill="#ffff00"/>
<rect x="292" y="268" width="4" height="1" fill="#ffff00"/>
<rect x="292" y="295" width="4" height="1" fill="#ffff00"/>
<text x="300.6" y="57.2" font-size="10.5" fill="#ffffff" font-family="'Liberation Sans', Arial, sans-serif" textLength="27.0" lengthAdjust="spacingAndGlyphs">1,095</text>
<text x="300.6" y="84.2" font-size="10.5" fill="#ffffff" font-family="'Liberation Sans', Arial, sans-serif" textLength="27.0" lengthAdjust="spacingAndGlyphs">1,090</text>
<text x="300.6" y="111.2" font-size="10.5" fill="#ffffff" font-family="'Liberation Sans', Arial, sans-serif" textLength="27.0" lengthAdjust="spacingAndGlyphs">1,085</text>
<text x="300.6" y="138.2" font-size="10.5" fill="#ffffff" font-family="'Liberation Sans', Arial, sans-serif" textLength="27.0" lengthAdjust="spacingAndGlyphs">1,080</text>
<text x="300.6" y="165.2" font-size="10.5" fill="#ffffff" font-family="'Liberation Sans', Arial, sans-serif" textLength="27.0" lengthAdjust="spacingAndGlyphs">1,075</text>
<text x="300.6" y="191.2" font-size="10.5" fill="#ffffff" font-family="'Liberation Sans', Arial, sans-serif" textLength="27.0" lengthAdjust="spacingAndGlyphs">1,070</text>
<text x="300.6" y="218.2" font-size="10.5" fill="#ffffff" font-family="'Liberation Sans', Arial, sans-serif" textLength="27.0" lengthAdjust="spacingAndGlyphs">1,065</text>
<text x="300.6" y="245.2" font-size="10.5" fill="#ffffff" font-family="'Liberation Sans', Arial, sans-serif" textLength="27.0" lengthAdjust="spacingAndGlyphs">1,060</text>
<text x="300.6" y="272.2" font-size="10.5" fill="#ffffff" font-family="'Liberation Sans', Arial, sans-serif" textLength="27.0" lengthAdjust="spacingAndGlyphs">1,055</text>
<text x="300.6" y="299.2" font-size="10.5" fill="#ffffff" font-family="'Liberation Sans', Arial, sans-serif" textLength="27.0" lengthAdjust="spacingAndGlyphs">1,050</text>
<rect x="648" y="27" width="4" height="1" fill="#ffff00"/>
<rect x="648" y="38" width="4" height="1" fill="#ffff00"/>
<rect x="648" y="49" width="4" height="1" fill="#ffff00"/>
<rect x="648" y="61" width="4" height="1" fill="#ffff00"/>
<rect x="648" y="72" width="4" height="1" fill="#ffff00"/>
<rect x="648" y="83" width="4" height="1" fill="#ffff00"/>
<rect x="648" y="95" width="4" height="1" fill="#ffff00"/>
<rect x="648" y="106" width="4" height="1" fill="#ffff00"/>
<rect x="648" y="117" width="4" height="1" fill="#ffff00"/>
<rect x="648" y="129" width="4" height="1" fill="#ffff00"/>
<rect x="648" y="140" width="4" height="1" fill="#ffff00"/>
<rect x="648" y="151" width="4" height="1" fill="#ffff00"/>
<rect x="648" y="163" width="4" height="1" fill="#ffff00"/>
<rect x="648" y="174" width="4" height="1" fill="#ffff00"/>
<rect x="648" y="185" width="4" height="1" fill="#ffff00"/>
<rect x="648" y="197" width="4" height="1" fill="#ffff00"/>
<rect x="648" y="208" width="4" height="1" fill="#ffff00"/>
<rect x="648" y="219" width="4" height="1" fill="#ffff00"/>
<rect x="648" y="231" width="4" height="1" fill="#ffff00"/>
<rect x="648" y="242" width="4" height="1" fill="#ffff00"/>
<rect x="648" y="253" width="4" height="1" fill="#ffff00"/>
<rect x="648" y="265" width="4" height="1" fill="#ffff00"/>
<rect x="648" y="276" width="4" height="1" fill="#ffff00"/>
<rect x="648" y="287" width="4" height="1" fill="#ffff00"/>
<rect x="648" y="299" width="4" height="1" fill="#ffff00"/>
<rect x="648" y="310" width="4" height="1" fill="#ffff00"/>
<text x="656.9" y="42.2" font-size="10.5" fill="#ffffff" font-family="'Liberation Sans', Arial, sans-serif" textLength="27.0" lengthAdjust="spacingAndGlyphs">1,098</text>
<text x="656.9" y="65.2" font-size="10.5" fill="#ffffff" font-family="'Liberation Sans', Arial, sans-serif" textLength="27.0" lengthAdjust="spacingAndGlyphs">1,094</text>
<text x="656.9" y="87.2" font-size="10.5" fill="#ffffff" font-family="'Liberation Sans', Arial, sans-serif" textLength="27.0" lengthAdjust="spacingAndGlyphs">1,090</text>
<text x="656.9" y="110.2" font-size="10.5" fill="#ffffff" font-family="'Liberation Sans', Arial, sans-serif" textLength="27.0" lengthAdjust="spacingAndGlyphs">1,086</text>
<text x="656.9" y="133.2" font-size="10.5" fill="#ffffff" font-family="'Liberation Sans', Arial, sans-serif" textLength="27.0" lengthAdjust="spacingAndGlyphs">1,082</text>
<text x="656.9" y="155.2" font-size="10.5" fill="#ffffff" font-family="'Liberation Sans', Arial, sans-serif" textLength="27.0" lengthAdjust="spacingAndGlyphs">1,078</text>
<text x="656.9" y="178.2" font-size="10.5" fill="#ffffff" font-family="'Liberation Sans', Arial, sans-serif" textLength="27.0" lengthAdjust="spacingAndGlyphs">1,074</text>
<text x="656.9" y="201.2" font-size="10.5" fill="#ffffff" font-family="'Liberation Sans', Arial, sans-serif" textLength="27.0" lengthAdjust="spacingAndGlyphs">1,070</text>
<text x="656.9" y="223.2" font-size="10.5" fill="#ffffff" font-family="'Liberation Sans', Arial, sans-serif" textLength="27.0" lengthAdjust="spacingAndGlyphs">1,066</text>
<text x="656.9" y="246.2" font-size="10.5" fill="#ffffff" font-family="'Liberation Sans', Arial, sans-serif" textLength="27.0" lengthAdjust="spacingAndGlyphs">1,062</text>
<text x="656.9" y="269.2" font-size="10.5" fill="#ffffff" font-family="'Liberation Sans', Arial, sans-serif" textLength="27.0" lengthAdjust="spacingAndGlyphs">1,058</text>
<text x="656.9" y="291.2" font-size="10.5" fill="#ffffff" font-family="'Liberation Sans', Arial, sans-serif" textLength="27.0" lengthAdjust="spacingAndGlyphs">1,054</text>
<text x="656.9" y="314.2" font-size="10.5" fill="#ffffff" font-family="'Liberation Sans', Arial, sans-serif" textLength="27.0" lengthAdjust="spacingAndGlyphs">1,050</text>
<rect x="292" y="390" width="4" height="1" fill="#ffff00"/>
<rect x="292" y="382" width="4" height="1" fill="#ffff00"/>
<rect x="292" y="374" width="4" height="1" fill="#ffff00"/>
<rect x="292" y="366" width="4" height="1" fill="#ffff00"/>
<rect x="292" y="358" width="4" height="1" fill="#ffff00"/>
<rect x="292" y="350" width="4" height="1" fill="#ffff00"/>
<rect x="292" y="342" width="4" height="1" fill="#ffff00"/>
<rect x="292" y="334" width="4" height="1" fill="#ffff00"/>
<rect x="292" y="326" width="4" height="1" fill="#ffff00"/>
<text x="299.7" y="338.1" font-size="10.5" fill="#ffffff" font-family="'Liberation Sans', Arial, sans-serif" textLength="6.0" lengthAdjust="spacingAndGlyphs">6</text>
<text x="299.7" y="354.2" font-size="10.5" fill="#ffffff" font-family="'Liberation Sans', Arial, sans-serif" textLength="6.0" lengthAdjust="spacingAndGlyphs">4</text>
<text x="299.7" y="370.3" font-size="10.5" fill="#ffffff" font-family="'Liberation Sans', Arial, sans-serif" textLength="6.0" lengthAdjust="spacingAndGlyphs">2</text>
<text x="299.7" y="386.4" font-size="10.5" fill="#ffffff" font-family="'Liberation Sans', Arial, sans-serif" textLength="6.0" lengthAdjust="spacingAndGlyphs">0</text>
<rect x="648" y="388" width="4" height="1" fill="#ffff00"/>
<rect x="648" y="382" width="4" height="1" fill="#ffff00"/>
<rect x="648" y="377" width="4" height="1" fill="#ffff00"/>
<rect x="648" y="372" width="4" height="1" fill="#ffff00"/>
<rect x="648" y="366" width="4" height="1" fill="#ffff00"/>
<rect x="648" y="360" width="4" height="1" fill="#ffff00"/>
<rect x="648" y="355" width="4" height="1" fill="#ffff00"/>
<rect x="648" y="350" width="4" height="1" fill="#ffff00"/>
<rect x="648" y="344" width="4" height="1" fill="#ffff00"/>
<rect x="648" y="338" width="4" height="1" fill="#ffff00"/>
<rect x="648" y="333" width="4" height="1" fill="#ffff00"/>
<rect x="648" y="328" width="4" height="1" fill="#ffff00"/>
<text x="656" y="337.2" font-size="10.5" fill="#ffffff" font-family="'Liberation Sans', Arial, sans-serif" textLength="6.0" lengthAdjust="spacingAndGlyphs">3</text>
<text x="656" y="353.7" font-size="10.5" fill="#ffffff" font-family="'Liberation Sans', Arial, sans-serif" textLength="15.0" lengthAdjust="spacingAndGlyphs">1.5</text>
<text x="656" y="370.2" font-size="10.5" fill="#ffffff" font-family="'Liberation Sans', Arial, sans-serif" textLength="6.0" lengthAdjust="spacingAndGlyphs">0</text>
<text x="656" y="386.7" font-size="10.5" fill="#ffffff" font-family="'Liberation Sans', Arial, sans-serif" textLength="18.6" lengthAdjust="spacingAndGlyphs">-1.5</text>
<rect x="292" y="402" width="4" height="1" fill="#ffff00"/>
<rect x="292" y="411" width="4" height="1" fill="#ffff00"/>
<rect x="292" y="419" width="4" height="1" fill="#ffff00"/>
<rect x="292" y="428" width="4" height="1" fill="#ffff00"/>
<rect x="292" y="437" width="4" height="1" fill="#ffff00"/>
<rect x="292" y="446" width="4" height="1" fill="#ffff00"/>
<rect x="292" y="454" width="4" height="1" fill="#ffff00"/>
<text x="300.4" y="405.9" font-size="10.5" fill="#ffffff" font-family="'Liberation Sans', Arial, sans-serif" textLength="12.0" lengthAdjust="spacingAndGlyphs">80</text>
<text x="300.4" y="423.3" font-size="10.5" fill="#ffffff" font-family="'Liberation Sans', Arial, sans-serif" textLength="12.0" lengthAdjust="spacingAndGlyphs">60</text>
<text x="300.4" y="440.7" font-size="10.5" fill="#ffffff" font-family="'Liberation Sans', Arial, sans-serif" textLength="12.0" lengthAdjust="spacingAndGlyphs">40</text>
<text x="300.4" y="458.1" font-size="10.5" fill="#ffffff" font-family="'Liberation Sans', Arial, sans-serif" textLength="12.0" lengthAdjust="spacingAndGlyphs">20</text>
<rect x="648" y="402" width="4" height="1" fill="#ffff00"/>
<rect x="648" y="411" width="4" height="1" fill="#ffff00"/>
<rect x="648" y="419" width="4" height="1" fill="#ffff00"/>
<rect x="648" y="428" width="4" height="1" fill="#ffff00"/>
<rect x="648" y="437" width="4" height="1" fill="#ffff00"/>
<rect x="648" y="446" width="4" height="1" fill="#ffff00"/>
<rect x="648" y="454" width="4" height="1" fill="#ffff00"/>
<text x="656" y="406.1" font-size="10.5" fill="#ffffff" font-family="'Liberation Sans', Arial, sans-serif" textLength="12.0" lengthAdjust="spacingAndGlyphs">80</text>
<text x="656" y="423.5" font-size="10.5" fill="#ffffff" font-family="'Liberation Sans', Arial, sans-serif" textLength="12.0" lengthAdjust="spacingAndGlyphs">60</text>
<text x="656" y="440.9" font-size="10.5" fill="#ffffff" font-family="'Liberation Sans', Arial, sans-serif" textLength="12.0" lengthAdjust="spacingAndGlyphs">40</text>
<text x="656" y="458.3" font-size="10.5" fill="#ffffff" font-family="'Liberation Sans', Arial, sans-serif" textLength="12.0" lengthAdjust="spacingAndGlyphs">20</text>
<rect x="292" y="469" width="4" height="1" fill="#ffff00"/>
<rect x="292" y="476" width="4" height="1" fill="#ffff00"/>
<rect x="292" y="483" width="4" height="1" fill="#ffff00"/>
<rect x="292" y="490" width="4" height="1" fill="#ffff00"/>
<rect x="292" y="497" width="4" height="1" fill="#ffff00"/>
<rect x="292" y="504" width="4" height="1" fill="#ffff00"/>
<rect x="292" y="511" width="4" height="1" fill="#ffff00"/>
<rect x="292" y="518" width="4" height="1" fill="#ffff00"/>
<rect x="292" y="525" width="4" height="1" fill="#ffff00"/>
<text x="300.4" y="480.1" font-size="10.5" fill="#ffffff" font-family="'Liberation Sans', Arial, sans-serif" textLength="12.0" lengthAdjust="spacingAndGlyphs">90</text>
<text x="300.4" y="501.4" font-size="10.5" fill="#ffffff" font-family="'Liberation Sans', Arial, sans-serif" textLength="12.0" lengthAdjust="spacingAndGlyphs">60</text>
<text x="300.4" y="522.7" font-size="10.5" fill="#ffffff" font-family="'Liberation Sans', Arial, sans-serif" textLength="12.0" lengthAdjust="spacingAndGlyphs">30</text>
<rect x="648" y="469" width="4" height="1" fill="#ffff00"/>
<rect x="648" y="475" width="4" height="1" fill="#ffff00"/>
<rect x="648" y="481" width="4" height="1" fill="#ffff00"/>
<rect x="648" y="488" width="4" height="1" fill="#ffff00"/>
<rect x="648" y="494" width="4" height="1" fill="#ffff00"/>
<rect x="648" y="500" width="4" height="1" fill="#ffff00"/>
<rect x="648" y="506" width="4" height="1" fill="#ffff00"/>
<rect x="648" y="513" width="4" height="1" fill="#ffff00"/>
<rect x="648" y="519" width="4" height="1" fill="#ffff00"/>
<rect x="648" y="525" width="4" height="1" fill="#ffff00"/>
<text x="656" y="485.0" font-size="10.5" fill="#ffffff" font-family="'Liberation Sans', Arial, sans-serif" textLength="12.0" lengthAdjust="spacingAndGlyphs">80</text>
<text x="656" y="503.8" font-size="10.5" fill="#ffffff" font-family="'Liberation Sans', Arial, sans-serif" textLength="12.0" lengthAdjust="spacingAndGlyphs">50</text>
<text x="656" y="522.6" font-size="10.5" fill="#ffffff" font-family="'Liberation Sans', Arial, sans-serif" textLength="12.0" lengthAdjust="spacingAndGlyphs">20</text>
<rect x="292" y="109" width="54" height="15" fill="#c8f6da"/>
<text x="292.8" y="120" font-size="10.6" fill="#000" font-family="'Liberation Sans', Arial, sans-serif" textLength="40.6" lengthAdjust="spacingAndGlyphs">1,084.60</text>
<rect x="648" y="114" width="54" height="15" fill="#c8f6da"/>
<text x="649.3" y="124.7" font-size="10.6" fill="#000" font-family="'Liberation Sans', Arial, sans-serif" textLength="40.6" lengthAdjust="spacingAndGlyphs">1,084.60</text>
<rect x="103" y="120" width="1" height="2" fill="#ff0000"/>
<rect x="96" y="105" width="14" height="15" fill="#ff0000"/>
<text x="103" y="116.2" font-size="11" fill="#20f0f0" text-anchor="middle" font-family="'Liberation Sans', Arial, sans-serif">S</text>
<rect x="434" y="88" width="1" height="16" fill="#ff0000"/>
<rect x="427" y="73" width="14" height="15" fill="#ff0000"/>
<text x="434" y="84.2" font-size="11" fill="#20f0f0" text-anchor="middle" font-family="'Liberation Sans', Arial, sans-serif">S</text>
<rect x="488" y="92" width="1" height="16" fill="#ff0000"/>
<rect x="481" y="77" width="14" height="15" fill="#ff0000"/>
<text x="488" y="88.2" font-size="11" fill="#20f0f0" text-anchor="middle" font-family="'Liberation Sans', Arial, sans-serif">S</text>
<rect x="7" y="269" width="1" height="30" fill="#88f000"/>
<rect x="2" y="299" width="14" height="17" fill="#88f000"/>
<text x="9.0" y="311.1" font-size="10.2" fill="#8418f4" text-anchor="middle" font-family="'Liberation Sans', Arial, sans-serif">B</text>
<rect x="270" y="131" width="1" height="30" fill="#88f000"/>
<rect x="263" y="161" width="14" height="15" fill="#88f000"/>
<text x="270.0" y="172.1" font-size="10.2" fill="#8418f4" text-anchor="middle" font-family="'Liberation Sans', Arial, sans-serif">B</text>
<rect x="400" y="151" width="1" height="30" fill="#88f000"/>
<rect x="391" y="181" width="18" height="17" fill="#88f000"/>
<text x="400.0" y="193.1" font-size="10.2" fill="#8418f4" text-anchor="middle" font-family="'Liberation Sans', Arial, sans-serif">B</text>
<rect x="480" y="141" width="1" height="30" fill="#88f000"/>
<rect x="473" y="171" width="14" height="15" fill="#88f000"/>
<text x="480.0" y="182.1" font-size="10.2" fill="#8418f4" text-anchor="middle" font-family="'Liberation Sans', Arial, sans-serif">B</text>
<rect x="592" y="173" width="1" height="30" fill="#88f000"/>
<rect x="585" y="203" width="14" height="15" fill="#88f000"/>
<text x="592.0" y="214.1" font-size="10.2" fill="#8418f4" text-anchor="middle" font-family="'Liberation Sans', Arial, sans-serif">B</text>
<g clip-path="url(#cl0)">
<path d="M26 319h1v1h1v2h-2z" fill="#ff9c9c"/>
<path d="M31 308h1v1h1v2h-2z" fill="#ff9c9c"/>
<path d="M36 295h1v1h1v2h-2z" fill="#ff9c9c"/>
<path d="M41 276h1v1h1v2h-2z" fill="#ff9c9c"/>
<path d="M46 262h1v1h1v2h-2z" fill="#ff9c9c"/>
<path d="M51 247h1v1h1v2h-2z" fill="#ff9c9c"/>
<path d="M56 237h1v1h1v2h-2z" fill="#ff9c9c"/>
<path d="M61 222h1v1h1v2h-2z" fill="#ff9c9c"/>
<path d="M66 207h1v1h1v2h-2z" fill="#ff9c9c"/>
<path d="M71 196h1v1h1v2h-2z" fill="#ff9c9c"/>
<path d="M77 186h1v1h1v2h-2z" fill="#ff9c9c"/>
<path d="M82 175h1v1h1v2h-2z" fill="#ff9c9c"/>
<path d="M87 164h1v1h1v2h-2z" fill="#ff9c9c"/>
<path d="M92 157h1v1h1v2h-2z" fill="#ff9c9c"/>
<path d="M97 123h1v1h1v2h-2z" fill="#ff9c9c"/>
<path d="M102 124h1v1h1v2h-2z" fill="#ff9c9c"/>
<path d="M107 125h1v1h1v2h-2z" fill="#ff9c9c"/>
<path d="M112 128h1v1h1v2h-2z" fill="#ff9c9c"/>
<path d="M117 129h1v1h1v2h-2z" fill="#ff9c9c"/>
<path d="M122 131h1v1h1v2h-2z" fill="#ff9c9c"/>
<path d="M127 171h1v1h1v2h-2z" fill="#ff9c9c"/>
<path d="M132 171h1v1h1v2h-2z" fill="#ff9c9c"/>
<path d="M137 169h1v1h1v2h-2z" fill="#ff9c9c"/>
<path d="M142 166h1v1h1v2h-2z" fill="#ff9c9c"/>
<path d="M148 161h1v1h1v2h-2z" fill="#ff9c9c"/>
<path d="M153 158h1v1h1v2h-2z" fill="#ff9c9c"/>
<path d="M158 153h1v1h1v2h-2z" fill="#ff9c9c"/>
<path d="M163 148h1v1h1v2h-2z" fill="#ff9c9c"/>
<path d="M168 97h1v1h1v2h-2z" fill="#ff9c9c"/>
<path d="M173 99h1v1h1v2h-2z" fill="#ff9c9c"/>
<path d="M178 101h1v1h1v2h-2z" fill="#ff9c9c"/>
<path d="M183 102h1v1h1v2h-2z" fill="#ff9c9c"/>
<path d="M188 103h1v1h1v2h-2z" fill="#ff9c9c"/>
<path d="M193 104h1v1h1v2h-2z" fill="#ff9c9c"/>
<path d="M198 105h1v1h1v2h-2z" fill="#ff9c9c"/>
<path d="M203 106h1v1h1v2h-2z" fill="#ff9c9c"/>
<path d="M208 107h1v1h1v2h-2z" fill="#ff9c9c"/>
<path d="M213 108h1v1h1v2h-2z" fill="#ff9c9c"/>
<path d="M219 109h1v1h1v2h-2z" fill="#ff9c9c"/>
<path d="M224 110h1v1h1v2h-2z" fill="#ff9c9c"/>
<path d="M229 111h1v1h1v2h-2z" fill="#ff9c9c"/>
<path d="M234 114h1v1h1v2h-2z" fill="#ff9c9c"/>
<path d="M239 118h1v1h1v2h-2z" fill="#ff9c9c"/>
<path d="M244 121h1v1h1v2h-2z" fill="#ff9c9c"/>
<path d="M249 125h1v1h1v2h-2z" fill="#ff9c9c"/>
<path d="M254 129h1v1h1v2h-2z" fill="#ff9c9c"/>
<path d="M259 133h1v1h1v2h-2z" fill="#ff9c9c"/>
<path d="M264 185h1v1h1v2h-2z" fill="#ff9c9c"/>
<path d="M269 184h1v1h1v2h-2z" fill="#ff9c9c"/>
<path d="M274 183h1v1h1v2h-2z" fill="#ff9c9c"/>
<path d="M279 181h1v1h1v2h-2z" fill="#ff9c9c"/>
<path d="M284 180h1v1h1v2h-2z" fill="#ff9c9c"/>
</g>
<g clip-path="url(#cl1)">
<path d="M362 130h1v1h1v2h-2z" fill="#ff9c9c"/>
<path d="M366 131h1v1h1v2h-2z" fill="#ff9c9c"/>
<path d="M370 133h1v1h1v2h-2z" fill="#ff9c9c"/>
<path d="M374 133h1v1h1v2h-2z" fill="#ff9c9c"/>
<path d="M378 135h1v1h1v2h-2z" fill="#ff9c9c"/>
<path d="M383 136h1v1h1v2h-2z" fill="#ff9c9c"/>
<path d="M387 137h1v1h1v2h-2z" fill="#ff9c9c"/>
<path d="M391 182h1v1h1v2h-2z" fill="#ff9c9c"/>
<path d="M395 182h1v1h1v2h-2z" fill="#ff9c9c"/>
<path d="M399 181h1v1h1v2h-2z" fill="#ff9c9c"/>
<path d="M403 178h1v1h1v2h-2z" fill="#ff9c9c"/>
<path d="M408 174h1v1h1v2h-2z" fill="#ff9c9c"/>
<path d="M412 169h1v1h1v2h-2z" fill="#ff9c9c"/>
<path d="M416 164h1v1h1v2h-2z" fill="#ff9c9c"/>
<path d="M420 159h1v1h1v2h-2z" fill="#ff9c9c"/>
<path d="M424 154h1v1h1v2h-2z" fill="#ff9c9c"/>
<path d="M428 150h1v1h1v2h-2z" fill="#ff9c9c"/>
<path d="M433 146h1v1h1v2h-2z" fill="#ff9c9c"/>
<path d="M437 103h1v1h1v2h-2z" fill="#ff9c9c"/>
<path d="M441 103h1v1h1v2h-2z" fill="#ff9c9c"/>
<path d="M445 105h1v1h1v2h-2z" fill="#ff9c9c"/>
<path d="M449 107h1v1h1v2h-2z" fill="#ff9c9c"/>
<path d="M454 109h1v1h1v2h-2z" fill="#ff9c9c"/>
<path d="M458 114h1v1h1v2h-2z" fill="#ff9c9c"/>
<path d="M462 118h1v1h1v2h-2z" fill="#ff9c9c"/>
<path d="M466 122h1v1h1v2h-2z" fill="#ff9c9c"/>
<path d="M470 125h1v1h1v2h-2z" fill="#ff9c9c"/>
<path d="M474 162h1v1h1v2h-2z" fill="#ff9c9c"/>
<path d="M479 160h1v1h1v2h-2z" fill="#ff9c9c"/>
<path d="M483 159h1v1h1v2h-2z" fill="#ff9c9c"/>
<path d="M487 158h1v1h1v2h-2z" fill="#ff9c9c"/>
<path d="M491 157h1v1h1v2h-2z" fill="#ff9c9c"/>
<path d="M495 156h1v1h1v2h-2z" fill="#ff9c9c"/>
<path d="M499 155h1v1h1v2h-2z" fill="#ff9c9c"/>
<path d="M504 154h1v1h1v2h-2z" fill="#ff9c9c"/>
<path d="M508 153h1v1h1v2h-2z" fill="#ff9c9c"/>
<path d="M512 152h1v1h1v2h-2z" fill="#ff9c9c"/>
<path d="M516 151h1v1h1v2h-2z" fill="#ff9c9c"/>
<path d="M520 151h1v1h1v2h-2z" fill="#ff9c9c"/>
<path d="M524 150h1v1h1v2h-2z" fill="#ff9c9c"/>
<path d="M529 149h1v1h1v2h-2z" fill="#ff9c9c"/>
<path d="M533 149h1v1h1v2h-2z" fill="#ff9c9c"/>
<path d="M537 148h1v1h1v2h-2z" fill="#ff9c9c"/>
<path d="M541 147h1v1h1v2h-2z" fill="#ff9c9c"/>
<path d="M545 110h1v1h1v2h-2z" fill="#ff9c9c"/>
<path d="M550 111h1v1h1v2h-2z" fill="#ff9c9c"/>
<path d="M554 113h1v1h1v2h-2z" fill="#ff9c9c"/>
<path d="M558 114h1v1h1v2h-2z" fill="#ff9c9c"/>
<path d="M562 117h1v1h1v2h-2z" fill="#ff9c9c"/>
<path d="M566 121h1v1h1v2h-2z" fill="#ff9c9c"/>
<path d="M570 124h1v1h1v2h-2z" fill="#ff9c9c"/>
<path d="M575 127h1v1h1v2h-2z" fill="#ff9c9c"/>
<path d="M579 129h1v1h1v2h-2z" fill="#ff9c9c"/>
<path d="M583 131h1v1h1v2h-2z" fill="#ff9c9c"/>
<path d="M587 133h1v1h1v2h-2z" fill="#ff9c9c"/>
<path d="M591 136h1v1h1v2h-2z" fill="#ff9c9c"/>
<path d="M595 139h1v1h1v2h-2z" fill="#ff9c9c"/>
<path d="M599 141h1v1h1v2h-2z" fill="#ff9c9c"/>
<path d="M604 195h1v1h1v2h-2z" fill="#ff9c9c"/>
<path d="M608 193h1v1h1v2h-2z" fill="#ff9c9c"/>
<path d="M612 190h1v1h1v2h-2z" fill="#ff9c9c"/>
<path d="M616 186h1v1h1v2h-2z" fill="#ff9c9c"/>
<path d="M620 183h1v1h1v2h-2z" fill="#ff9c9c"/>
<path d="M625 180h1v1h1v2h-2z" fill="#ff9c9c"/>
<path d="M629 177h1v1h1v2h-2z" fill="#ff9c9c"/>
<path d="M633 174h1v1h1v2h-2z" fill="#ff9c9c"/>
<path d="M637 172h1v1h1v2h-2z" fill="#ff9c9c"/>
<path d="M641 169h1v1h1v2h-2z" fill="#ff9c9c"/>
</g>
<text x="376.5" y="62.5" font-size="26" textLength="40.5" lengthAdjust="spacingAndGlyphs" fill="#ff8228" font-style="italic" font-family="Sarabun, 'Noto Sans Thai', sans-serif" font-weight="300">ทะลุ</text>
<text x="427" y="62.8" font-size="23" fill="#ff8228" font-style="italic" font-family="Sarabun, 'Noto Sans Thai', sans-serif" font-weight="300">?</text>
<rect x="2" y="2" width="113" height="21" fill="#ffffff"/>
<rect x="98" y="3" width="17" height="19" fill="#f3f0f3"/>
<path d="M104 11h5l-2.5 3z" fill="#000"/>
<text x="4.7" y="15.9" font-size="10.5" fill="#000" font-family="'Liberation Sans', Arial, sans-serif" textLength="37.5" lengthAdjust="spacingAndGlyphs" stroke="#000" stroke-width="0.3">S50M13</text>
<rect x="116" y="2" width="114" height="23" fill="#ffff00"/>
<rect x="117" y="3" width="112" height="21" fill="#000"/>
<rect x="150" y="3" width="1" height="21" fill="#ffff00"/>
<g clip-path="url(#hc0)">
<text x="147.9" y="19.1" font-size="10.8" fill="#ffffff" text-anchor="end" font-family="'Liberation Sans', Arial, sans-serif" stroke="#fff" stroke-width="0.2">19/438</text>
</g>
<text x="227.4" y="19.1" font-size="10.8" fill="#ffffff" text-anchor="end" font-family="'Liberation Sans', Arial, sans-serif" stroke="#fff" stroke-width="0.2">1,082.47</text>
<rect x="230" y="2" width="116" height="23" fill="#ffff00"/>
<rect x="231" y="3" width="114" height="21" fill="#f2f0f2"/>
<rect x="231" y="22" width="114" height="2" fill="#a8a4a8"/>
<text x="241" y="18.5" font-size="10" fill="#1c1cff" font-weight="bold" font-family="'Liberation Sans', Arial, sans-serif" textLength="96" lengthAdjust="spacingAndGlyphs">Recal Scale-Linear</text>
<rect x="359" y="2" width="113" height="21" fill="#ffffff"/>
<rect x="455" y="3" width="17" height="19" fill="#f3f0f3"/>
<path d="M461 11h5l-2.5 3z" fill="#000"/>
<text x="361.7" y="15.9" font-size="10.5" fill="#000" font-family="'Liberation Sans', Arial, sans-serif" textLength="37.5" lengthAdjust="spacingAndGlyphs" stroke="#000" stroke-width="0.3">S50M13</text>
<rect x="473" y="2" width="113" height="23" fill="#ffff00"/>
<rect x="474" y="3" width="111" height="21" fill="#000"/>
<rect x="506" y="3" width="1" height="21" fill="#ffff00"/>
<g clip-path="url(#hc1)">
<text x="503.9" y="19.1" font-size="10.8" fill="#ffffff" text-anchor="end" font-family="'Liberation Sans', Arial, sans-serif" stroke="#fff" stroke-width="0.2">11/833</text>
</g>
<text x="583.4" y="19.1" font-size="10.8" fill="#ffffff" text-anchor="end" font-family="'Liberation Sans', Arial, sans-serif" stroke="#fff" stroke-width="0.2">1.83</text>
<rect x="586" y="2" width="116" height="23" fill="#ffff00"/>
<rect x="587" y="3" width="114" height="21" fill="#f2f0f2"/>
<rect x="587" y="22" width="114" height="2" fill="#a8a4a8"/>
<text x="597" y="18.5" font-size="10" fill="#1c1cff" font-weight="bold" font-family="'Liberation Sans', Arial, sans-serif" textLength="96" lengthAdjust="spacingAndGlyphs">Recal Scale-Linear</text>
<rect x="0" y="0" width="704" height="2" fill="#6c626c"/>
<rect x="0" y="0" width="2" height="547" fill="#6c626c"/>
<rect x="702" y="0" width="2" height="547" fill="#6c626c"/>
<rect x="346" y="0" width="2" height="547" fill="#6c626c"/>
<rect x="348" y="0" width="3" height="547" fill="#cdd8e8"/>
<rect x="351" y="0" width="1" height="547" fill="#ffffff"/>
<rect x="352" y="0" width="1" height="547" fill="#000000"/>
<rect x="353" y="0" width="1" height="547" fill="#f4f4f8"/>
<rect x="354" y="0" width="3" height="547" fill="#a6aed6"/>
<rect x="357" y="0" width="2" height="547" fill="#6c626c"/>
<rect x="39" y="102" width="665" height="1" fill="#ff8228"/>
</svg>
</body></html>
